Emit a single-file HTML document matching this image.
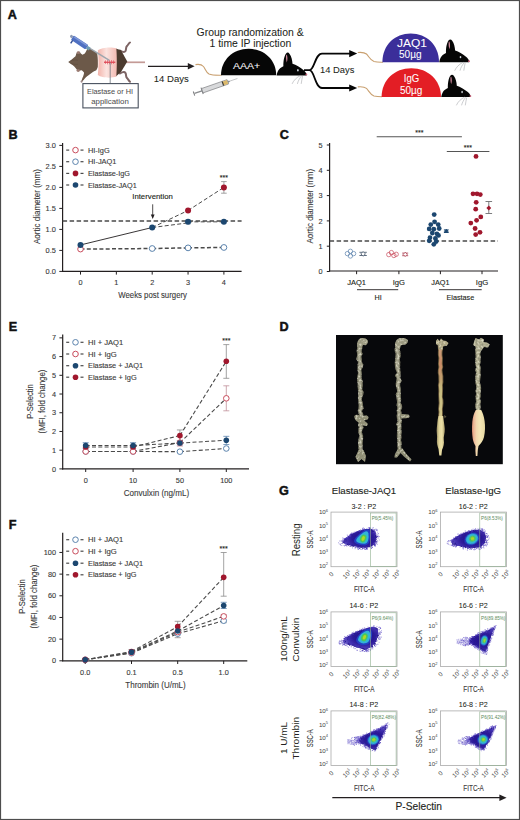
<!DOCTYPE html>
<html><head><meta charset="utf-8"><style>
html,body{margin:0;padding:0;background:#fff;}
body{width:520px;height:820px;overflow:hidden;}
svg{display:block;font-family:"Liberation Sans", sans-serif;}
</style></head><body>
<svg width="520" height="820" viewBox="0 0 520 820">
<rect x="0" y="0" width="520" height="820" fill="#fff"/>
<text x="7.8" y="18.94" font-size="12.6" stroke="#111" stroke-width="0.5" fill="#111" font-weight="bold" >A</text>
<text x="8.5" y="138.54" font-size="12.6" stroke="#111" stroke-width="0.5" fill="#111" font-weight="bold" >B</text>
<text x="279.8" y="138.64" font-size="12.6" stroke="#111" stroke-width="0.5" fill="#111" font-weight="bold" >C</text>
<text x="8.7" y="331.24" font-size="12.6" stroke="#111" stroke-width="0.5" fill="#111" font-weight="bold" >E</text>
<text x="279.6" y="331.14" font-size="12.6" stroke="#111" stroke-width="0.5" fill="#111" font-weight="bold" >D</text>
<text x="8.7" y="529.04" font-size="12.6" stroke="#111" stroke-width="0.5" fill="#111" font-weight="bold" >F</text>
<text x="278.9" y="495.34" font-size="12.6" stroke="#111" stroke-width="0.5" fill="#111" font-weight="bold" >G</text>
<path d="M126,62.3 L145,62.3" stroke="#c49a96" stroke-width="1.7"/>
<path d="M120,50.5 C122.5,52 124.5,52.5 125.5,51 C126.5,49 125.5,47.5 127,46 C128.5,44.5 128.5,43.5 130,42.5" stroke="#7d6464" stroke-width="2" fill="none" stroke-linecap="round"/>
<path d="M120,73.5 C122.5,72 124.5,71.5 125.5,73 C126.5,75 125.5,76.5 127,78 C128.5,79.5 128.5,80.5 130,81.8" stroke="#7d6464" stroke-width="2" fill="none" stroke-linecap="round"/>
<path d="M115.8,48.5 L121,50.2 L127.3,61.5 L121,72 L115.8,76.6 Z" fill="#4c3b2f"/>
<path d="M68.2,62.1 C69.5,61 70.5,60 71.7,59.4 C73,58.3 74.5,57.2 75.5,56.3 C76,55 76.2,53.6 76.7,52.8 C77.5,51.8 78.5,51.5 79.2,51.8 C80,52.3 80.5,52.8 80.8,53.4 L82.5,54.8 L84.8,53.6 C85.5,52.5 86.2,51 87.1,49.2 C88.5,48.5 90.5,48.6 93.2,50.2 C95,51.3 96.5,52.6 97.3,54 C97.9,58 98,63 97.8,67.1 C97.4,68.5 96.8,69.5 96.3,70.2 C95,71 94,71.2 93.2,71.7 C92,72.5 91,73.3 90.2,74 C89,75 88,75.6 87.1,76.3 C86,77.2 85.3,78 84.8,78.6 C84,79.6 83.2,80.5 82.5,80.9 L81.3,82.1 C81.5,80 82.5,78 83.2,76.3 C83.6,75 84.2,73.5 84,72.5 C83.2,71.5 82.5,70.8 81.7,70.2 C80.5,70.2 79.5,70.6 78.6,70.9 C77.8,70.4 77.2,70 76.7,69.4 C75.8,68.3 74.9,67.3 74,66.3 C73,65.5 72,64.7 70.9,64 C70,63.4 69,62.8 68.2,62.1 Z" fill="#6c5949"/>
<ellipse cx="78.4" cy="52.7" rx="1.7" ry="1.4" fill="#9a7b72"/><ellipse cx="78.2" cy="70.6" rx="1.7" ry="1.4" fill="#9a7b72"/>
<path d="M70.5,61 C73,60 75.5,59.8 78,60.3 M70.5,63.3 C73,64.3 75.5,64.6 78,64.2" stroke="#5d4a3c" stroke-width="0.5" fill="none"/>
<circle cx="81.6" cy="81.6" r="1.1" fill="#a08888"/>
<defs><linearGradient id="pk" x1="0" x2="1" y1="0" y2="0"><stop offset="0" stop-color="#f2b3aa"/><stop offset="0.45" stop-color="#fbe3df"/><stop offset="1" stop-color="#f3bab2"/></linearGradient></defs>
<path d="M97.8,50.5 C101,47.5 111,46.8 116.3,48.3 C117,56 117,69 116.3,76.8 C111,78.3 101,77.8 97.8,75 C98.8,67 98.8,58 97.8,50.5 Z" fill="url(#pk)"/>
<path d="M104,62.2 L115.3,62.2" stroke="#d62b3c" stroke-width="1.1"/>
<path d="M105.5,60.3 L105.5,64 M107.5,60 L107.5,64.3 M109.5,60 L109.5,64.3 M111.5,60 L111.5,64.3 M113.5,60.3 L113.5,64" stroke="#e04a58" stroke-width="0.6"/>
<path d="M89.5,48.2 L109.4,60.3" stroke="#9ea6ae" stroke-width="1.4"/>
<g transform="translate(72.3,37.6) rotate(33.5)"><rect x="0" y="-2.6" width="17.5" height="5.2" rx="1" fill="#4f70c2"/><rect x="1" y="-2.4" width="15.5" height="1.6" fill="#7d96d6"/><rect x="17.3" y="-1.6" width="3.6" height="3.2" fill="#6f9cb4"/><circle cx="-1.3" cy="-0.6" r="1.5" fill="#8c9ab4"/><rect x="1.2" y="2.2" width="1.4" height="3.6" fill="#2d4a92"/></g>
<line x1="110.2" y1="62.5" x2="110.2" y2="83" stroke="#70767e" stroke-width="0.8" />
<rect x="82.9" y="83.6" width="55.3" height="24.3" fill="#fff" stroke="#48505d" stroke-width="1.1"/>
<text x="110" y="94.06" font-size="7.4" text-anchor="middle" stroke="#505050" stroke-width="0.05" fill="#505050" textLength="46" lengthAdjust="spacingAndGlyphs" >Elastase or HI</text>
<text x="110" y="104.06" font-size="7.4" text-anchor="middle" stroke="#505050" stroke-width="0.05" fill="#505050" textLength="37.5" lengthAdjust="spacingAndGlyphs" >application</text>
<line x1="148" y1="66.3" x2="190" y2="66.3" stroke="#231f20" stroke-width="1.3" />
<path d="M194.6,66.3 L187.8,63 L187.8,69.6 Z" fill="#231f20"/>
<text x="171.3" y="82.18" font-size="9.4" text-anchor="middle" stroke="#231f20" stroke-width="0.05" fill="#231f20" textLength="35" lengthAdjust="spacingAndGlyphs" >14 Days</text>
<text x="250.1" y="35.77" font-size="10.2" text-anchor="middle" stroke="#231f20" stroke-width="0.05" fill="#231f20" textLength="107" lengthAdjust="spacingAndGlyphs" >Group randomization &amp;</text>
<text x="250.4" y="47.27" font-size="10.2" text-anchor="middle" stroke="#231f20" stroke-width="0.05" fill="#231f20" textLength="81.6" lengthAdjust="spacingAndGlyphs" >1 time IP injection</text>
<path d="M195.5,64.6 C199,64 201.5,64.3 203.5,66.5 C205.5,69 206,72.5 209,74 C212,75.3 216,75.3 221.5,75.2" stroke="#c9a070" stroke-width="1.1" fill="none"/>
<g transform="translate(194,93.6) rotate(-19.2)"><path d="M0,-2.2 L0,2.2" stroke="#77787b" stroke-width="1"/><rect x="0.5" y="-0.7" width="8" height="1.4" fill="#8a8c8f"/><path d="M8.6,-3.4 L8.6,3.4" stroke="#77787b" stroke-width="1"/><rect x="8.8" y="-2.3" width="27" height="4.6" fill="#d8d9db" stroke="#77787b" stroke-width="0.6"/><rect x="30.5" y="-2.0" width="5" height="4" fill="#dcb96a"/><rect x="30" y="-2.2" width="1.2" height="4.4" fill="#3a3a3a"/><path d="M35.8,-1.2 L38,-0.5 L38,0.5 L35.8,1.2 Z" fill="#8a8c8f"/><line x1="38" y1="0" x2="46" y2="0" stroke="#a7a9ac" stroke-width="0.6"/></g>
<path d="M221,75.3 C221,60 233,48.8 248.6,48.8 C264.2,48.8 276.2,60 276.2,75.3 Z" fill="#060606"/>
<text x="246.6" y="68.68" font-size="9.4" text-anchor="middle" stroke="#fff" stroke-width="0.05" fill="#fff" textLength="27.3" lengthAdjust="spacingAndGlyphs" >AAA+</text>
<g transform="translate(276.6,75.4) scale(1.0)"><path d="M0,0 C0.5,-3.5 2,-6 3.5,-7.2 C4.5,-8 5.5,-8.6 6.8,-9.2 C6.6,-14 7.5,-19.5 9.5,-22 C10.5,-23.2 12,-23 13,-21.5 C14.8,-19 15.8,-15 15.9,-11.6 C19.5,-10.3 23.5,-8.2 26.8,-5.4 C28.5,-4 29.6,-2.5 30.1,-1.2 L30,0 Z" fill="#060606"/><path d="M9.6,-20.6 C10.4,-21.2 11,-19 10.8,-15.5 L10.2,-13 C9.4,-15 9.2,-18.5 9.6,-20.6 Z" fill="#c98597"/><ellipse cx="21.3" cy="-5.1" rx="0.8" ry="1.2" fill="#cfd6dd"/><circle cx="29.8" cy="-1" r="0.9" fill="#d0607a"/><path d="M24,0 C20,2 17,5 15.5,8.5 M25,0.3 C23,3 21.5,5.5 20.8,8.5 M26,0.5 C25.5,3 25,5.5 24.6,8.5" stroke="#a0a2a6" stroke-width="0.55" fill="none"/></g>
<path d="M304,70.2 L309.5,70.2 C314.5,70.2 315,53.6 322,53.6 L351,53.6 M309.5,70.2 C314.5,70.2 315,88 322,88 L351,88" stroke="#060606" stroke-width="1.8" fill="none"/>
<path d="M357.2,53.6 L349.2,50 L349.2,57.2 Z M357.2,88 L349.2,84.4 L349.2,91.6 Z" fill="#060606"/>
<text x="337.2" y="73.08" font-size="9.4" text-anchor="middle" stroke="#231f20" stroke-width="0.05" fill="#231f20" textLength="34.4" lengthAdjust="spacingAndGlyphs" >14 Days</text>
<path d="M357.8,52.5 C361,52.2 364,52 366.5,54 C369,56.5 370,60 374,61.5 C377,62.3 380,62.3 383,62.2" stroke="#c9a070" stroke-width="1.1" fill="none"/>
<path d="M357.8,86.9 C361,86.6 364,86.4 366.5,88.4 C369,91 370,94.5 374,96 C377,96.8 380,96.8 382,96.8" stroke="#c9a070" stroke-width="1.1" fill="none"/>
<path d="M382.4,62.2 C382.4,45 395,33.6 410.7,33.6 C426.4,33.6 439,45 439,62.2 Z" fill="#3b2e9a"/>
<path d="M381.6,97 C381.6,80 394.5,68.2 411.3,68.2 C428,68.2 441,80 441,97 Z" fill="#e31e25"/>
<text x="412" y="46.92" font-size="10.6" text-anchor="middle" stroke="#fff" stroke-width="0.05" fill="#fff" textLength="30" lengthAdjust="spacingAndGlyphs" >JAQ1</text>
<text x="410.3" y="58.42" font-size="10.6" text-anchor="middle" stroke="#fff" stroke-width="0.05" fill="#fff" textLength="22.6" lengthAdjust="spacingAndGlyphs" >50µg</text>
<text x="411.5" y="81.92" font-size="10.6" text-anchor="middle" stroke="#fff" stroke-width="0.05" fill="#fff" textLength="15.5" lengthAdjust="spacingAndGlyphs" >IgG</text>
<text x="411.2" y="93.72" font-size="10.6" text-anchor="middle" stroke="#fff" stroke-width="0.05" fill="#fff" textLength="22.4" lengthAdjust="spacingAndGlyphs" >50µg</text>
<g transform="translate(439.2,62.2) scale(1.0)"><path d="M0,0 C0.5,-3.5 2,-6 3.5,-7.2 C4.5,-8 5.5,-8.6 6.8,-9.2 C6.6,-14 7.5,-19.5 9.5,-22 C10.5,-23.2 12,-23 13,-21.5 C14.8,-19 15.8,-15 15.9,-11.6 C19.5,-10.3 23.5,-8.2 26.8,-5.4 C28.5,-4 29.6,-2.5 30.1,-1.2 L30,0 Z" fill="#060606"/><path d="M9.6,-20.6 C10.4,-21.2 11,-19 10.8,-15.5 L10.2,-13 C9.4,-15 9.2,-18.5 9.6,-20.6 Z" fill="#c98597"/><ellipse cx="21.3" cy="-5.1" rx="0.8" ry="1.2" fill="#cfd6dd"/><circle cx="29.8" cy="-1" r="0.9" fill="#d0607a"/><path d="M24,0 C20,2 17,5 15.5,8.5 M25,0.3 C23,3 21.5,5.5 20.8,8.5 M26,0.5 C25.5,3 25,5.5 24.6,8.5" stroke="#a0a2a6" stroke-width="0.55" fill="none"/></g>
<g transform="translate(441.2,97.0) scale(0.98)"><path d="M0,0 C0.5,-3.5 2,-6 3.5,-7.2 C4.5,-8 5.5,-8.6 6.8,-9.2 C6.6,-14 7.5,-19.5 9.5,-22 C10.5,-23.2 12,-23 13,-21.5 C14.8,-19 15.8,-15 15.9,-11.6 C19.5,-10.3 23.5,-8.2 26.8,-5.4 C28.5,-4 29.6,-2.5 30.1,-1.2 L30,0 Z" fill="#060606"/><path d="M9.6,-20.6 C10.4,-21.2 11,-19 10.8,-15.5 L10.2,-13 C9.4,-15 9.2,-18.5 9.6,-20.6 Z" fill="#c98597"/><ellipse cx="21.3" cy="-5.1" rx="0.8" ry="1.2" fill="#cfd6dd"/><circle cx="29.8" cy="-1" r="0.9" fill="#d0607a"/><path d="M24,0 C20,2 17,5 15.5,8.5 M25,0.3 C23,3 21.5,5.5 20.8,8.5 M26,0.5 C25.5,3 25,5.5 24.6,8.5" stroke="#a0a2a6" stroke-width="0.55" fill="none"/></g>
<line x1="62.6" y1="143" x2="62.6" y2="272" stroke="#231f20" stroke-width="1.2" />
<line x1="62" y1="271.4" x2="241.6" y2="271.4" stroke="#231f20" stroke-width="1.2" />
<line x1="59.3" y1="271.4" x2="62.6" y2="271.4" stroke="#231f20" stroke-width="1" />
<text x="55.9" y="274.03" font-size="7.3" text-anchor="end" stroke="#3a3a3a" stroke-width="0.12" fill="#3a3a3a" textLength="10.3" lengthAdjust="spacingAndGlyphs" >0.0</text>
<line x1="59.3" y1="250.4" x2="62.6" y2="250.4" stroke="#231f20" stroke-width="1" />
<text x="55.9" y="253.03" font-size="7.3" text-anchor="end" stroke="#3a3a3a" stroke-width="0.12" fill="#3a3a3a" textLength="10.3" lengthAdjust="spacingAndGlyphs" >0.5</text>
<line x1="59.3" y1="229.4" x2="62.6" y2="229.4" stroke="#231f20" stroke-width="1" />
<text x="55.9" y="232.03" font-size="7.3" text-anchor="end" stroke="#3a3a3a" stroke-width="0.12" fill="#3a3a3a" textLength="10.3" lengthAdjust="spacingAndGlyphs" >1.0</text>
<line x1="59.3" y1="208.4" x2="62.6" y2="208.4" stroke="#231f20" stroke-width="1" />
<text x="55.9" y="211.03" font-size="7.3" text-anchor="end" stroke="#3a3a3a" stroke-width="0.12" fill="#3a3a3a" textLength="10.3" lengthAdjust="spacingAndGlyphs" >1.5</text>
<line x1="59.3" y1="187.4" x2="62.6" y2="187.4" stroke="#231f20" stroke-width="1" />
<text x="55.9" y="190.03" font-size="7.3" text-anchor="end" stroke="#3a3a3a" stroke-width="0.12" fill="#3a3a3a" textLength="10.3" lengthAdjust="spacingAndGlyphs" >2.0</text>
<line x1="59.3" y1="166.4" x2="62.6" y2="166.4" stroke="#231f20" stroke-width="1" />
<text x="55.9" y="169.03" font-size="7.3" text-anchor="end" stroke="#3a3a3a" stroke-width="0.12" fill="#3a3a3a" textLength="10.3" lengthAdjust="spacingAndGlyphs" >2.5</text>
<line x1="59.3" y1="145.4" x2="62.6" y2="145.4" stroke="#231f20" stroke-width="1" />
<text x="55.9" y="148.03" font-size="7.3" text-anchor="end" stroke="#3a3a3a" stroke-width="0.12" fill="#3a3a3a" textLength="10.3" lengthAdjust="spacingAndGlyphs" >3.0</text>
<line x1="80.5" y1="271.4" x2="80.5" y2="274.6" stroke="#231f20" stroke-width="1" />
<text x="80.5" y="284.53" font-size="7.3" text-anchor="middle" stroke="#3a3a3a" stroke-width="0.12" fill="#3a3a3a" >0</text>
<line x1="116.35" y1="271.4" x2="116.35" y2="274.6" stroke="#231f20" stroke-width="1" />
<text x="116.35" y="284.53" font-size="7.3" text-anchor="middle" stroke="#3a3a3a" stroke-width="0.12" fill="#3a3a3a" >1</text>
<line x1="152.2" y1="271.4" x2="152.2" y2="274.6" stroke="#231f20" stroke-width="1" />
<text x="152.2" y="284.53" font-size="7.3" text-anchor="middle" stroke="#3a3a3a" stroke-width="0.12" fill="#3a3a3a" >2</text>
<line x1="188.05" y1="271.4" x2="188.05" y2="274.6" stroke="#231f20" stroke-width="1" />
<text x="188.05" y="284.53" font-size="7.3" text-anchor="middle" stroke="#3a3a3a" stroke-width="0.12" fill="#3a3a3a" >3</text>
<line x1="223.9" y1="271.4" x2="223.9" y2="274.6" stroke="#231f20" stroke-width="1" />
<text x="223.9" y="284.53" font-size="7.3" text-anchor="middle" stroke="#3a3a3a" stroke-width="0.12" fill="#3a3a3a" >4</text>
<text x="152.6" y="298.48" font-size="9.4" text-anchor="middle" stroke="#3a3a3a" stroke-width="0.12" fill="#3a3a3a" textLength="68.7" lengthAdjust="spacingAndGlyphs" >Weeks post surgery</text>
<text x="0" y="3.24" font-size="9.0" text-anchor="middle" stroke="#3a3a3a" stroke-width="0.12" fill="#3a3a3a" textLength="75" lengthAdjust="spacingAndGlyphs" transform="translate(36.3,206.6) rotate(-90)" >Aortic diameter (mm)</text>
<line x1="62.6" y1="220.9" x2="241.6" y2="220.9" stroke="#4a4a4a" stroke-width="1.5" stroke-dasharray="4.5 2.5"/>
<line x1="80.5" y1="244.94" x2="152.2" y2="227.51" stroke="#231f20" stroke-width="0.9" />
<line x1="80.5" y1="249.14" x2="152.2" y2="248.51" stroke="#4a4a4a" stroke-width="1.5" stroke-dasharray="4 2.3"/>
<line x1="152.2" y1="248.51" x2="188.05" y2="247.88" stroke="#4a4a4a" stroke-width="1.5" stroke-dasharray="4 2.3"/>
<line x1="188.05" y1="247.88" x2="223.9" y2="247.46" stroke="#4a4a4a" stroke-width="1.5" stroke-dasharray="4 2.3"/>
<line x1="152.2" y1="227.51" x2="188.05" y2="210.5" stroke="#4a4a4a" stroke-width="1.0" stroke-dasharray="4 2.3"/>
<line x1="188.05" y1="210.5" x2="223.9" y2="187.4" stroke="#4a4a4a" stroke-width="1.0" stroke-dasharray="4 2.3"/>
<line x1="152.2" y1="227.51" x2="188.05" y2="222.89" stroke="#4a4a4a" stroke-width="1.0" stroke-dasharray="4 2.3"/>
<line x1="188.05" y1="221.84" x2="223.9" y2="221.84" stroke="#4a4a4a" stroke-width="1.0" stroke-dasharray="4 2.3"/>
<line x1="223.9" y1="181.6" x2="223.9" y2="193.2" stroke="#8c8c8c" stroke-width="0.8" />
<line x1="221.1" y1="181.6" x2="226.7" y2="181.6" stroke="#8c8c8c" stroke-width="0.8" />
<line x1="221.1" y1="193.2" x2="226.7" y2="193.2" stroke="#8c8c8c" stroke-width="0.8" />
<line x1="188.05" y1="212.6" x2="188.05" y2="208.4" stroke="#8c8c8c" stroke-width="0.8" />
<line x1="188.05" y1="223.94" x2="188.05" y2="219.74" stroke="#9aa7b8" stroke-width="0.8" />
<line x1="185.55" y1="223.94" x2="190.55" y2="223.94" stroke="#9aa7b8" stroke-width="0.8" />
<line x1="185.55" y1="219.74" x2="190.55" y2="219.74" stroke="#9aa7b8" stroke-width="0.8" />
<circle cx="80.5" cy="249.14" r="2.8" fill="#fff" stroke="#c94c5c" stroke-width="1"/>
<circle cx="152.2" cy="248.51" r="2.9" fill="#fff" stroke="#5b83ad" stroke-width="1"/>
<circle cx="188.05" cy="247.88" r="2.9" fill="#fff" stroke="#5b83ad" stroke-width="1"/>
<circle cx="223.9" cy="247.46" r="2.9" fill="#fff" stroke="#5b83ad" stroke-width="1"/>
<circle cx="80.5" cy="244.94" r="3" fill="#1c4770"/>
<circle cx="152.2" cy="227.51" r="3" fill="#1c4770"/>
<circle cx="188.05" cy="210.5" r="3" fill="#a0172d"/>
<circle cx="223.9" cy="187.4" r="3" fill="#a0172d"/>
<circle cx="188.05" cy="221.84" r="3" fill="#1c4770"/>
<circle cx="223.9" cy="221.84" r="3" fill="#1c4770"/>
<text x="223.9" y="180.12" font-size="7" text-anchor="middle" stroke="#231f20" stroke-width="0.12" fill="#231f20" >***</text>
<text x="152.5" y="199.39" font-size="7.2" text-anchor="middle" stroke="#231f20" stroke-width="0.12" fill="#231f20" textLength="40.5" lengthAdjust="spacingAndGlyphs" >Intervention</text>
<line x1="152.7" y1="204.3" x2="152.7" y2="217" stroke="#231f20" stroke-width="0.8" />
<path d="M152.7,219 L150.8,214.4 L154.6,214.4 Z" fill="#231f20"/>
<line x1="66.2" y1="150.1" x2="69.2" y2="150.1" stroke="#4a4a4a" stroke-width="1.2" />
<line x1="80.5" y1="150.1" x2="83.5" y2="150.1" stroke="#4a4a4a" stroke-width="1.2" />
<circle cx="75.5" cy="150.1" r="2.8" fill="#fff" stroke="#c94c5c" stroke-width="1"/>
<text x="88" y="152.62" font-size="7.0" stroke="#3a3a3a" stroke-width="0.12" fill="#3a3a3a" textLength="21.7" lengthAdjust="spacingAndGlyphs" >HI-IgG</text>
<line x1="66.2" y1="161.7" x2="69.2" y2="161.7" stroke="#4a4a4a" stroke-width="1.2" />
<line x1="80.5" y1="161.7" x2="83.5" y2="161.7" stroke="#4a4a4a" stroke-width="1.2" />
<circle cx="75.5" cy="161.7" r="2.8" fill="#fff" stroke="#5b83ad" stroke-width="1"/>
<text x="88" y="164.22" font-size="7.0" stroke="#3a3a3a" stroke-width="0.12" fill="#3a3a3a" textLength="28.5" lengthAdjust="spacingAndGlyphs" >HI-JAQ1</text>
<line x1="66.2" y1="173.4" x2="69.2" y2="173.4" stroke="#4a4a4a" stroke-width="1.2" />
<line x1="80.5" y1="173.4" x2="83.5" y2="173.4" stroke="#4a4a4a" stroke-width="1.2" />
<circle cx="75.5" cy="173.4" r="2.8" fill="#a0172d"/>
<text x="88" y="175.92" font-size="7.0" stroke="#3a3a3a" stroke-width="0.12" fill="#3a3a3a" textLength="42" lengthAdjust="spacingAndGlyphs" >Elastase-IgG</text>
<line x1="66.2" y1="185" x2="69.2" y2="185" stroke="#4a4a4a" stroke-width="1.2" />
<line x1="80.5" y1="185" x2="83.5" y2="185" stroke="#4a4a4a" stroke-width="1.2" />
<circle cx="75.5" cy="185" r="2.8" fill="#1c4770"/>
<text x="88" y="187.52" font-size="7.0" stroke="#3a3a3a" stroke-width="0.12" fill="#3a3a3a" textLength="48.7" lengthAdjust="spacingAndGlyphs" >Elastase-JAQ1</text>
<line x1="329.6" y1="143" x2="329.6" y2="271.5" stroke="#231f20" stroke-width="1.2" />
<line x1="329" y1="271" x2="498" y2="271" stroke="#231f20" stroke-width="1.2" />
<line x1="326.8" y1="271.5" x2="329.6" y2="271.5" stroke="#231f20" stroke-width="1" />
<text x="322.6" y="274.13" font-size="7.3" text-anchor="end" stroke="#3a3a3a" stroke-width="0.12" fill="#3a3a3a" >0</text>
<line x1="326.8" y1="246.2" x2="329.6" y2="246.2" stroke="#231f20" stroke-width="1" />
<text x="322.6" y="248.83" font-size="7.3" text-anchor="end" stroke="#3a3a3a" stroke-width="0.12" fill="#3a3a3a" >1</text>
<line x1="326.8" y1="220.9" x2="329.6" y2="220.9" stroke="#231f20" stroke-width="1" />
<text x="322.6" y="223.53" font-size="7.3" text-anchor="end" stroke="#3a3a3a" stroke-width="0.12" fill="#3a3a3a" >2</text>
<line x1="326.8" y1="195.6" x2="329.6" y2="195.6" stroke="#231f20" stroke-width="1" />
<text x="322.6" y="198.23" font-size="7.3" text-anchor="end" stroke="#3a3a3a" stroke-width="0.12" fill="#3a3a3a" >3</text>
<line x1="326.8" y1="170.3" x2="329.6" y2="170.3" stroke="#231f20" stroke-width="1" />
<text x="322.6" y="172.93" font-size="7.3" text-anchor="end" stroke="#3a3a3a" stroke-width="0.12" fill="#3a3a3a" >4</text>
<line x1="326.8" y1="145" x2="329.6" y2="145" stroke="#231f20" stroke-width="1" />
<text x="322.6" y="147.63" font-size="7.3" text-anchor="end" stroke="#3a3a3a" stroke-width="0.12" fill="#3a3a3a" >5</text>
<line x1="356.6" y1="271" x2="356.6" y2="274.2" stroke="#231f20" stroke-width="1" />
<text x="356.6" y="284.79" font-size="7.2" text-anchor="middle" stroke="#231f20" stroke-width="0.12" fill="#231f20" textLength="18.8" lengthAdjust="spacingAndGlyphs" >JAQ1</text>
<line x1="398.9" y1="271" x2="398.9" y2="274.2" stroke="#231f20" stroke-width="1" />
<text x="398.9" y="284.79" font-size="7.2" text-anchor="middle" stroke="#231f20" stroke-width="0.12" fill="#231f20" textLength="12.3" lengthAdjust="spacingAndGlyphs" >IgG</text>
<line x1="440.4" y1="271" x2="440.4" y2="274.2" stroke="#231f20" stroke-width="1" />
<text x="440.4" y="284.79" font-size="7.2" text-anchor="middle" stroke="#231f20" stroke-width="0.12" fill="#231f20" textLength="18.3" lengthAdjust="spacingAndGlyphs" >JAQ1</text>
<line x1="482" y1="271" x2="482" y2="274.2" stroke="#231f20" stroke-width="1" />
<text x="482" y="284.79" font-size="7.2" text-anchor="middle" stroke="#231f20" stroke-width="0.12" fill="#231f20" textLength="12.5" lengthAdjust="spacingAndGlyphs" >IgG</text>
<line x1="357" y1="289.7" x2="398.2" y2="289.7" stroke="#231f20" stroke-width="0.9" />
<text x="378.2" y="299.99" font-size="7.2" text-anchor="middle" stroke="#231f20" stroke-width="0.12" fill="#231f20" >HI</text>
<line x1="439" y1="289.7" x2="481.7" y2="289.7" stroke="#231f20" stroke-width="0.9" />
<text x="460.4" y="299.99" font-size="7.2" text-anchor="middle" stroke="#231f20" stroke-width="0.12" fill="#231f20" textLength="27.7" lengthAdjust="spacingAndGlyphs" >Elastase</text>
<text x="0" y="3.24" font-size="9.0" text-anchor="middle" stroke="#3a3a3a" stroke-width="0.12" fill="#3a3a3a" textLength="74.7" lengthAdjust="spacingAndGlyphs" transform="translate(309.4,206.2) rotate(-90)" >Aortic diameter (mm)</text>
<line x1="329.6" y1="241.1" x2="498" y2="241.1" stroke="#4a4a4a" stroke-width="1.5" stroke-dasharray="4.5 2.5"/>
<line x1="376.7" y1="136.7" x2="461.9" y2="136.7" stroke="#555" stroke-width="1.1" />
<text x="419.3" y="135.12" font-size="7" text-anchor="middle" stroke="#231f20" stroke-width="0.12" fill="#231f20" >***</text>
<line x1="446.8" y1="151.5" x2="489.4" y2="151.5" stroke="#555" stroke-width="1.1" />
<text x="467.8" y="149.92" font-size="7" text-anchor="middle" stroke="#231f20" stroke-width="0.12" fill="#231f20" >***</text>
<circle cx="347.4" cy="253.6" r="2.2" fill="none" stroke="#5b83ad" stroke-width="0.7"/>
<circle cx="350.4" cy="251.3" r="2.2" fill="none" stroke="#5b83ad" stroke-width="0.7"/>
<circle cx="353.6" cy="253.6" r="2.2" fill="none" stroke="#5b83ad" stroke-width="0.7"/>
<circle cx="350.4" cy="256" r="2.2" fill="none" stroke="#5b83ad" stroke-width="0.7"/>
<circle cx="388.8" cy="254.6" r="2.2" fill="none" stroke="#c94c5c" stroke-width="0.7"/>
<circle cx="391.4" cy="252.6" r="2.2" fill="none" stroke="#c94c5c" stroke-width="0.7"/>
<circle cx="393.9" cy="255.5" r="2.2" fill="none" stroke="#c94c5c" stroke-width="0.7"/>
<circle cx="396.2" cy="254.3" r="2.2" fill="none" stroke="#c94c5c" stroke-width="0.7"/>
<line x1="363.1" y1="252.3" x2="363.1" y2="255.5" stroke="#4d5d70" stroke-width="0.9" />
<line x1="359.4" y1="252.3" x2="366.8" y2="252.3" stroke="#4d5d70" stroke-width="0.9" />
<line x1="359.4" y1="255.5" x2="366.8" y2="255.5" stroke="#4d5d70" stroke-width="0.9" />
<path d="M360.8,253.9 L363.1,251.6 L365.4,253.9 L363.1,256.2 Z" fill="#fff" stroke="#4d5d70" stroke-width="0.9"/>
<line x1="405.2" y1="253.1" x2="405.2" y2="255.7" stroke="#b04a5a" stroke-width="0.9" />
<line x1="402.2" y1="253.1" x2="408.2" y2="253.1" stroke="#b04a5a" stroke-width="0.9" />
<line x1="402.2" y1="255.7" x2="408.2" y2="255.7" stroke="#b04a5a" stroke-width="0.9" />
<path d="M403.1,254.4 L405.2,252.3 L407.3,254.4 L405.2,256.5 Z" fill="#fff" stroke="#b04a5a" stroke-width="0.9"/>
<circle cx="434.2" cy="214.6" r="2.4" fill="#1c4770"/>
<circle cx="434.6" cy="221.8" r="2.4" fill="#1c4770"/>
<circle cx="430.8" cy="224.6" r="2.4" fill="#1c4770"/>
<circle cx="438.2" cy="224.6" r="2.4" fill="#1c4770"/>
<circle cx="429.2" cy="228.9" r="2.4" fill="#1c4770"/>
<circle cx="433.8" cy="229.2" r="2.4" fill="#1c4770"/>
<circle cx="439.2" cy="228.5" r="2.4" fill="#1c4770"/>
<circle cx="432.3" cy="233" r="2.4" fill="#1c4770"/>
<circle cx="436.9" cy="233.8" r="2.4" fill="#1c4770"/>
<circle cx="438.5" cy="235.4" r="2.4" fill="#1c4770"/>
<circle cx="430" cy="237.7" r="2.4" fill="#1c4770"/>
<circle cx="435.4" cy="238.5" r="2.4" fill="#1c4770"/>
<circle cx="429.2" cy="240.8" r="2.4" fill="#1c4770"/>
<circle cx="436.2" cy="241.5" r="2.4" fill="#1c4770"/>
<circle cx="433.8" cy="244.3" r="2.4" fill="#1c4770"/>
<circle cx="476" cy="156.4" r="2.4" fill="#a0172d"/>
<circle cx="473" cy="193.8" r="2.4" fill="#a0172d"/>
<circle cx="477" cy="193.8" r="2.4" fill="#a0172d"/>
<circle cx="480.3" cy="194.6" r="2.4" fill="#a0172d"/>
<circle cx="476.2" cy="202.3" r="2.4" fill="#a0172d"/>
<circle cx="475.7" cy="209.2" r="2.4" fill="#a0172d"/>
<circle cx="480.8" cy="216.9" r="2.4" fill="#a0172d"/>
<circle cx="476.6" cy="220.3" r="2.4" fill="#a0172d"/>
<circle cx="470.8" cy="223.1" r="2.4" fill="#a0172d"/>
<circle cx="475.1" cy="228.5" r="2.4" fill="#a0172d"/>
<circle cx="480" cy="232.3" r="2.4" fill="#a0172d"/>
<circle cx="475.7" cy="234.6" r="2.4" fill="#a0172d"/>
<line x1="446.3" y1="229.9" x2="446.3" y2="232.5" stroke="#1c4770" stroke-width="1" />
<line x1="443.9" y1="229.9" x2="448.7" y2="229.9" stroke="#1c4770" stroke-width="1" />
<line x1="443.9" y1="232.5" x2="448.7" y2="232.5" stroke="#1c4770" stroke-width="1" />
<path d="M444.5,231.2 L446.3,229.4 L448.1,231.2 L446.3,233 Z" fill="#1c4770" stroke="#1c4770" stroke-width="1"/>
<line x1="488.8" y1="201.5" x2="488.8" y2="213.5" stroke="#6d6e71" stroke-width="0.9" />
<line x1="485.5" y1="201.5" x2="492.1" y2="201.5" stroke="#6d6e71" stroke-width="0.9" />
<line x1="485.5" y1="213.5" x2="492.1" y2="213.5" stroke="#6d6e71" stroke-width="0.9" />
<path d="M486.4,208 L488.8,205.4 L491.2,208 L488.8,210.6 Z" fill="#a0172d"/>
<line x1="62.7" y1="334.6" x2="62.7" y2="469.4" stroke="#231f20" stroke-width="1.2" />
<line x1="62.1" y1="468.9" x2="249" y2="468.9" stroke="#231f20" stroke-width="1.2" />
<line x1="59.4" y1="468.9" x2="62.7" y2="468.9" stroke="#231f20" stroke-width="1" />
<text x="56" y="471.53" font-size="7.3" text-anchor="end" stroke="#3a3a3a" stroke-width="0.12" fill="#3a3a3a" >0</text>
<line x1="59.4" y1="450.18" x2="62.7" y2="450.18" stroke="#231f20" stroke-width="1" />
<text x="56" y="452.81" font-size="7.3" text-anchor="end" stroke="#3a3a3a" stroke-width="0.12" fill="#3a3a3a" >1</text>
<line x1="59.4" y1="431.46" x2="62.7" y2="431.46" stroke="#231f20" stroke-width="1" />
<text x="56" y="434.09" font-size="7.3" text-anchor="end" stroke="#3a3a3a" stroke-width="0.12" fill="#3a3a3a" >2</text>
<line x1="59.4" y1="412.74" x2="62.7" y2="412.74" stroke="#231f20" stroke-width="1" />
<text x="56" y="415.37" font-size="7.3" text-anchor="end" stroke="#3a3a3a" stroke-width="0.12" fill="#3a3a3a" >3</text>
<line x1="59.4" y1="394.02" x2="62.7" y2="394.02" stroke="#231f20" stroke-width="1" />
<text x="56" y="396.65" font-size="7.3" text-anchor="end" stroke="#3a3a3a" stroke-width="0.12" fill="#3a3a3a" >4</text>
<line x1="59.4" y1="375.3" x2="62.7" y2="375.3" stroke="#231f20" stroke-width="1" />
<text x="56" y="377.93" font-size="7.3" text-anchor="end" stroke="#3a3a3a" stroke-width="0.12" fill="#3a3a3a" >5</text>
<line x1="59.4" y1="356.58" x2="62.7" y2="356.58" stroke="#231f20" stroke-width="1" />
<text x="56" y="359.21" font-size="7.3" text-anchor="end" stroke="#3a3a3a" stroke-width="0.12" fill="#3a3a3a" >6</text>
<line x1="59.4" y1="337.86" x2="62.7" y2="337.86" stroke="#231f20" stroke-width="1" />
<text x="56" y="340.49" font-size="7.3" text-anchor="end" stroke="#3a3a3a" stroke-width="0.12" fill="#3a3a3a" >7</text>
<line x1="85.7" y1="468.9" x2="85.7" y2="472" stroke="#231f20" stroke-width="1" />
<text x="85.7" y="482.53" font-size="7.3" text-anchor="middle" stroke="#3a3a3a" stroke-width="0.12" fill="#3a3a3a" >0</text>
<line x1="133.1" y1="468.9" x2="133.1" y2="472" stroke="#231f20" stroke-width="1" />
<text x="133.1" y="482.53" font-size="7.3" text-anchor="middle" stroke="#3a3a3a" stroke-width="0.12" fill="#3a3a3a" >10</text>
<line x1="179.9" y1="468.9" x2="179.9" y2="472" stroke="#231f20" stroke-width="1" />
<text x="179.9" y="482.53" font-size="7.3" text-anchor="middle" stroke="#3a3a3a" stroke-width="0.12" fill="#3a3a3a" >50</text>
<line x1="226.3" y1="468.9" x2="226.3" y2="472" stroke="#231f20" stroke-width="1" />
<text x="226.3" y="482.53" font-size="7.3" text-anchor="middle" stroke="#3a3a3a" stroke-width="0.12" fill="#3a3a3a" >100</text>
<text x="156.5" y="495.98" font-size="9.4" text-anchor="middle" stroke="#3a3a3a" stroke-width="0.12" fill="#3a3a3a" textLength="65.6" lengthAdjust="spacingAndGlyphs" >Convulxin (ng/mL)</text>
<text x="0" y="3.17" font-size="8.8" text-anchor="middle" stroke="#3a3a3a" stroke-width="0.12" fill="#3a3a3a" textLength="34.5" lengthAdjust="spacingAndGlyphs" transform="translate(29.7,401.5) rotate(-90)" >P-Selectin</text>
<text x="0" y="3.17" font-size="8.8" text-anchor="middle" stroke="#3a3a3a" stroke-width="0.12" fill="#3a3a3a" textLength="64" lengthAdjust="spacingAndGlyphs" transform="translate(42,401.5) rotate(-90)" >(MFI, fold change)</text>
<line x1="85.7" y1="451.49" x2="133.1" y2="451.49" stroke="#4a4a4a" stroke-width="1.1" stroke-dasharray="4 2.3"/>
<line x1="133.1" y1="451.49" x2="179.9" y2="451.68" stroke="#4a4a4a" stroke-width="1.1" stroke-dasharray="4 2.3"/>
<line x1="179.9" y1="451.68" x2="226.3" y2="448.5" stroke="#4a4a4a" stroke-width="1.1" stroke-dasharray="4 2.3"/>
<line x1="85.7" y1="451.49" x2="133.1" y2="451.49" stroke="#4a4a4a" stroke-width="1.1" stroke-dasharray="4 2.3"/>
<line x1="133.1" y1="451.49" x2="179.9" y2="442.69" stroke="#4a4a4a" stroke-width="1.1" stroke-dasharray="4 2.3"/>
<line x1="179.9" y1="442.69" x2="226.3" y2="398.33" stroke="#4a4a4a" stroke-width="1.1" stroke-dasharray="4 2.3"/>
<line x1="85.7" y1="445.5" x2="133.1" y2="445.5" stroke="#4a4a4a" stroke-width="1.1" stroke-dasharray="4 2.3"/>
<line x1="133.1" y1="445.5" x2="179.9" y2="443.07" stroke="#4a4a4a" stroke-width="1.1" stroke-dasharray="4 2.3"/>
<line x1="179.9" y1="443.07" x2="226.3" y2="440.26" stroke="#4a4a4a" stroke-width="1.1" stroke-dasharray="4 2.3"/>
<line x1="85.7" y1="447" x2="133.1" y2="447" stroke="#4a4a4a" stroke-width="1.1" stroke-dasharray="4 2.3"/>
<line x1="133.1" y1="447" x2="179.9" y2="435.58" stroke="#4a4a4a" stroke-width="1.1" stroke-dasharray="4 2.3"/>
<line x1="179.9" y1="435.58" x2="226.3" y2="361.26" stroke="#4a4a4a" stroke-width="1.1" stroke-dasharray="4 2.3"/>
<line x1="226.3" y1="344.6" x2="226.3" y2="378.3" stroke="#8c8c8c" stroke-width="0.8" />
<line x1="223.3" y1="344.6" x2="229.3" y2="344.6" stroke="#8c8c8c" stroke-width="0.8" />
<line x1="223.3" y1="378.3" x2="229.3" y2="378.3" stroke="#8c8c8c" stroke-width="0.8" />
<line x1="226.3" y1="385.8" x2="226.3" y2="410.8" stroke="#c0909a" stroke-width="0.8" />
<line x1="223.3" y1="385.8" x2="229.3" y2="385.8" stroke="#c0909a" stroke-width="0.8" />
<line x1="223.3" y1="410.8" x2="229.3" y2="410.8" stroke="#c0909a" stroke-width="0.8" />
<line x1="179.9" y1="429.96" x2="179.9" y2="440.82" stroke="#8c8c8c" stroke-width="0.8" />
<line x1="176.9" y1="429.96" x2="182.9" y2="429.96" stroke="#8c8c8c" stroke-width="0.8" />
<line x1="176.9" y1="440.82" x2="182.9" y2="440.82" stroke="#8c8c8c" stroke-width="0.8" />
<line x1="226.3" y1="436.33" x2="226.3" y2="444.56" stroke="#5b83ad" stroke-width="0.8" />
<line x1="223.3" y1="436.33" x2="229.3" y2="436.33" stroke="#5b83ad" stroke-width="0.8" />
<line x1="223.3" y1="444.56" x2="229.3" y2="444.56" stroke="#5b83ad" stroke-width="0.8" />
<line x1="85.7" y1="442.69" x2="85.7" y2="448.31" stroke="#5b83ad" stroke-width="0.8" />
<line x1="82.7" y1="442.69" x2="88.7" y2="442.69" stroke="#5b83ad" stroke-width="0.8" />
<line x1="82.7" y1="448.31" x2="88.7" y2="448.31" stroke="#5b83ad" stroke-width="0.8" />
<line x1="133.1" y1="442.69" x2="133.1" y2="448.31" stroke="#5b83ad" stroke-width="0.8" />
<line x1="130.1" y1="442.69" x2="136.1" y2="442.69" stroke="#5b83ad" stroke-width="0.8" />
<line x1="130.1" y1="448.31" x2="136.1" y2="448.31" stroke="#5b83ad" stroke-width="0.8" />
<line x1="179.9" y1="441.19" x2="179.9" y2="444.94" stroke="#5b83ad" stroke-width="0.8" />
<line x1="176.9" y1="441.19" x2="182.9" y2="441.19" stroke="#5b83ad" stroke-width="0.8" />
<line x1="176.9" y1="444.94" x2="182.9" y2="444.94" stroke="#5b83ad" stroke-width="0.8" />
<line x1="179.9" y1="437.08" x2="179.9" y2="446.06" stroke="#d08a96" stroke-width="0.8" />
<line x1="176.9" y1="437.08" x2="182.9" y2="437.08" stroke="#d08a96" stroke-width="0.8" />
<line x1="176.9" y1="446.06" x2="182.9" y2="446.06" stroke="#d08a96" stroke-width="0.8" />
<circle cx="85.7" cy="451.49" r="2.8" fill="#fff" stroke="#5b83ad" stroke-width="1"/>
<circle cx="133.1" cy="451.49" r="2.8" fill="#fff" stroke="#5b83ad" stroke-width="1"/>
<circle cx="179.9" cy="451.68" r="2.8" fill="#fff" stroke="#5b83ad" stroke-width="1"/>
<circle cx="226.3" cy="448.5" r="2.8" fill="#fff" stroke="#5b83ad" stroke-width="1"/>
<circle cx="85.7" cy="451.49" r="2.8" fill="#fff" stroke="#c94c5c" stroke-width="1"/>
<circle cx="133.1" cy="451.49" r="2.8" fill="#fff" stroke="#c94c5c" stroke-width="1"/>
<circle cx="179.9" cy="442.69" r="2.8" fill="#fff" stroke="#c94c5c" stroke-width="1"/>
<circle cx="226.3" cy="398.33" r="2.8" fill="#fff" stroke="#c94c5c" stroke-width="1"/>
<circle cx="85.7" cy="447" r="2.8" fill="#a0172d"/>
<circle cx="133.1" cy="447" r="2.8" fill="#a0172d"/>
<circle cx="179.9" cy="435.58" r="2.8" fill="#a0172d"/>
<circle cx="226.3" cy="361.26" r="2.8" fill="#a0172d"/>
<circle cx="85.7" cy="445.5" r="2.8" fill="#1c4770"/>
<circle cx="133.1" cy="445.5" r="2.8" fill="#1c4770"/>
<circle cx="179.9" cy="443.07" r="2.8" fill="#1c4770"/>
<circle cx="226.3" cy="440.26" r="2.8" fill="#1c4770"/>
<text x="226.3" y="342.72" font-size="7" text-anchor="middle" stroke="#231f20" stroke-width="0.12" fill="#231f20" >***</text>
<line x1="66.2" y1="342.3" x2="69.2" y2="342.3" stroke="#4a4a4a" stroke-width="1.2" />
<line x1="80.5" y1="342.3" x2="83.5" y2="342.3" stroke="#4a4a4a" stroke-width="1.2" />
<circle cx="75.5" cy="342.3" r="2.8" fill="#fff" stroke="#5b83ad" stroke-width="1"/>
<text x="88" y="344.82" font-size="7.0" stroke="#3a3a3a" stroke-width="0.12" fill="#3a3a3a" textLength="35.2" lengthAdjust="spacingAndGlyphs" >HI + JAQ1</text>
<line x1="66.2" y1="354" x2="69.2" y2="354" stroke="#4a4a4a" stroke-width="1.2" />
<line x1="80.5" y1="354" x2="83.5" y2="354" stroke="#4a4a4a" stroke-width="1.2" />
<circle cx="75.5" cy="354" r="2.8" fill="#fff" stroke="#c94c5c" stroke-width="1"/>
<text x="88" y="356.52" font-size="7.0" stroke="#3a3a3a" stroke-width="0.12" fill="#3a3a3a" textLength="28.8" lengthAdjust="spacingAndGlyphs" >HI + IgG</text>
<line x1="66.2" y1="365.7" x2="69.2" y2="365.7" stroke="#4a4a4a" stroke-width="1.2" />
<line x1="80.5" y1="365.7" x2="83.5" y2="365.7" stroke="#4a4a4a" stroke-width="1.2" />
<circle cx="75.5" cy="365.7" r="2.8" fill="#1c4770"/>
<text x="88" y="368.22" font-size="7.0" stroke="#3a3a3a" stroke-width="0.12" fill="#3a3a3a" textLength="55" lengthAdjust="spacingAndGlyphs" >Elastase + JAQ1</text>
<line x1="66.2" y1="377.2" x2="69.2" y2="377.2" stroke="#4a4a4a" stroke-width="1.2" />
<line x1="80.5" y1="377.2" x2="83.5" y2="377.2" stroke="#4a4a4a" stroke-width="1.2" />
<circle cx="75.5" cy="377.2" r="2.8" fill="#a0172d"/>
<text x="88" y="379.72" font-size="7.0" stroke="#3a3a3a" stroke-width="0.12" fill="#3a3a3a" textLength="48.7" lengthAdjust="spacingAndGlyphs" >Elastase + IgG</text>
<line x1="62.7" y1="532.7" x2="62.7" y2="661.3" stroke="#231f20" stroke-width="1.2" />
<line x1="62.1" y1="660.8" x2="247.3" y2="660.8" stroke="#231f20" stroke-width="1.2" />
<line x1="59.4" y1="660.8" x2="62.7" y2="660.8" stroke="#231f20" stroke-width="1" />
<text x="56" y="663.43" font-size="7.3" text-anchor="end" stroke="#3a3a3a" stroke-width="0.12" fill="#3a3a3a" >0</text>
<line x1="59.4" y1="639.13" x2="62.7" y2="639.13" stroke="#231f20" stroke-width="1" />
<text x="56" y="641.76" font-size="7.3" text-anchor="end" stroke="#3a3a3a" stroke-width="0.12" fill="#3a3a3a" >20</text>
<line x1="59.4" y1="617.46" x2="62.7" y2="617.46" stroke="#231f20" stroke-width="1" />
<text x="56" y="620.09" font-size="7.3" text-anchor="end" stroke="#3a3a3a" stroke-width="0.12" fill="#3a3a3a" >40</text>
<line x1="59.4" y1="595.79" x2="62.7" y2="595.79" stroke="#231f20" stroke-width="1" />
<text x="56" y="598.42" font-size="7.3" text-anchor="end" stroke="#3a3a3a" stroke-width="0.12" fill="#3a3a3a" >60</text>
<line x1="59.4" y1="574.12" x2="62.7" y2="574.12" stroke="#231f20" stroke-width="1" />
<text x="56" y="576.75" font-size="7.3" text-anchor="end" stroke="#3a3a3a" stroke-width="0.12" fill="#3a3a3a" >80</text>
<line x1="59.4" y1="552.45" x2="62.7" y2="552.45" stroke="#231f20" stroke-width="1" />
<text x="56" y="555.08" font-size="7.3" text-anchor="end" stroke="#3a3a3a" stroke-width="0.12" fill="#3a3a3a" >100</text>
<line x1="85.2" y1="660.8" x2="85.2" y2="664" stroke="#231f20" stroke-width="1" />
<text x="85.2" y="675.03" font-size="7.3" text-anchor="middle" stroke="#3a3a3a" stroke-width="0.12" fill="#3a3a3a" >0.0</text>
<line x1="131.5" y1="660.8" x2="131.5" y2="664" stroke="#231f20" stroke-width="1" />
<text x="131.5" y="675.03" font-size="7.3" text-anchor="middle" stroke="#3a3a3a" stroke-width="0.12" fill="#3a3a3a" >0.1</text>
<line x1="177.7" y1="660.8" x2="177.7" y2="664" stroke="#231f20" stroke-width="1" />
<text x="177.7" y="675.03" font-size="7.3" text-anchor="middle" stroke="#3a3a3a" stroke-width="0.12" fill="#3a3a3a" >0.5</text>
<line x1="223.7" y1="660.8" x2="223.7" y2="664" stroke="#231f20" stroke-width="1" />
<text x="223.7" y="675.03" font-size="7.3" text-anchor="middle" stroke="#3a3a3a" stroke-width="0.12" fill="#3a3a3a" >1.0</text>
<text x="155.5" y="688.18" font-size="9.4" text-anchor="middle" stroke="#3a3a3a" stroke-width="0.12" fill="#3a3a3a" textLength="60.4" lengthAdjust="spacingAndGlyphs" >Thrombin (U/mL)</text>
<text x="0" y="3.17" font-size="8.8" text-anchor="middle" stroke="#3a3a3a" stroke-width="0.12" fill="#3a3a3a" textLength="34.5" lengthAdjust="spacingAndGlyphs" transform="translate(21.6,596.6) rotate(-90)" >P-Selectin</text>
<text x="0" y="3.17" font-size="8.8" text-anchor="middle" stroke="#3a3a3a" stroke-width="0.12" fill="#3a3a3a" textLength="64" lengthAdjust="spacingAndGlyphs" transform="translate(34.3,596.5) rotate(-90)" >(MFI, fold change)</text>
<line x1="85.2" y1="659.72" x2="131.5" y2="653.22" stroke="#4a4a4a" stroke-width="1.1" stroke-dasharray="4 2.3"/>
<line x1="131.5" y1="653.22" x2="177.7" y2="633.71" stroke="#4a4a4a" stroke-width="1.1" stroke-dasharray="4 2.3"/>
<line x1="177.7" y1="633.71" x2="223.7" y2="620.71" stroke="#4a4a4a" stroke-width="1.1" stroke-dasharray="4 2.3"/>
<line x1="85.2" y1="659.72" x2="131.5" y2="652.67" stroke="#4a4a4a" stroke-width="1.1" stroke-dasharray="4 2.3"/>
<line x1="131.5" y1="652.67" x2="177.7" y2="632.09" stroke="#4a4a4a" stroke-width="1.1" stroke-dasharray="4 2.3"/>
<line x1="177.7" y1="632.09" x2="223.7" y2="616.38" stroke="#4a4a4a" stroke-width="1.1" stroke-dasharray="4 2.3"/>
<line x1="85.2" y1="659.72" x2="131.5" y2="652.13" stroke="#4a4a4a" stroke-width="1.1" stroke-dasharray="4 2.3"/>
<line x1="131.5" y1="652.13" x2="177.7" y2="631" stroke="#4a4a4a" stroke-width="1.1" stroke-dasharray="4 2.3"/>
<line x1="177.7" y1="631" x2="223.7" y2="605.54" stroke="#4a4a4a" stroke-width="1.1" stroke-dasharray="4 2.3"/>
<line x1="85.2" y1="659.72" x2="131.5" y2="651.59" stroke="#4a4a4a" stroke-width="1.1" stroke-dasharray="4 2.3"/>
<line x1="131.5" y1="651.59" x2="177.7" y2="626.67" stroke="#4a4a4a" stroke-width="1.1" stroke-dasharray="4 2.3"/>
<line x1="177.7" y1="626.67" x2="223.7" y2="577.37" stroke="#4a4a4a" stroke-width="1.1" stroke-dasharray="4 2.3"/>
<line x1="223.7" y1="552.5" x2="223.7" y2="596.2" stroke="#8c8c8c" stroke-width="0.8" />
<line x1="220.7" y1="552.5" x2="226.7" y2="552.5" stroke="#8c8c8c" stroke-width="0.8" />
<line x1="220.7" y1="596.2" x2="226.7" y2="596.2" stroke="#8c8c8c" stroke-width="0.8" />
<line x1="223.7" y1="602.3" x2="223.7" y2="608.5" stroke="#5b83ad" stroke-width="0.8" />
<line x1="220.7" y1="602.3" x2="226.7" y2="602.3" stroke="#5b83ad" stroke-width="0.8" />
<line x1="220.7" y1="608.5" x2="226.7" y2="608.5" stroke="#5b83ad" stroke-width="0.8" />
<line x1="223.7" y1="614.7" x2="223.7" y2="622.7" stroke="#8c8c8c" stroke-width="0.8" />
<line x1="220.7" y1="614.7" x2="226.7" y2="614.7" stroke="#8c8c8c" stroke-width="0.8" />
<line x1="220.7" y1="622.7" x2="226.7" y2="622.7" stroke="#8c8c8c" stroke-width="0.8" />
<line x1="177.7" y1="621.3" x2="177.7" y2="637.7" stroke="#8c8c8c" stroke-width="0.8" />
<line x1="174.7" y1="621.3" x2="180.7" y2="621.3" stroke="#8c8c8c" stroke-width="0.8" />
<line x1="174.7" y1="637.7" x2="180.7" y2="637.7" stroke="#8c8c8c" stroke-width="0.8" />
<line x1="131.5" y1="649.5" x2="131.5" y2="654" stroke="#8c8c8c" stroke-width="0.8" />
<line x1="128.5" y1="649.5" x2="134.5" y2="649.5" stroke="#8c8c8c" stroke-width="0.8" />
<line x1="128.5" y1="654" x2="134.5" y2="654" stroke="#8c8c8c" stroke-width="0.8" />
<circle cx="85.2" cy="659.72" r="2.8" fill="#fff" stroke="#5b83ad" stroke-width="1"/>
<circle cx="131.5" cy="653.22" r="2.8" fill="#fff" stroke="#5b83ad" stroke-width="1"/>
<circle cx="177.7" cy="633.71" r="2.8" fill="#fff" stroke="#5b83ad" stroke-width="1"/>
<circle cx="223.7" cy="620.71" r="2.8" fill="#fff" stroke="#5b83ad" stroke-width="1"/>
<circle cx="85.2" cy="659.72" r="2.8" fill="#fff" stroke="#c94c5c" stroke-width="1"/>
<circle cx="131.5" cy="652.67" r="2.8" fill="#fff" stroke="#c94c5c" stroke-width="1"/>
<circle cx="177.7" cy="632.09" r="2.8" fill="#fff" stroke="#c94c5c" stroke-width="1"/>
<circle cx="223.7" cy="616.38" r="2.8" fill="#fff" stroke="#c94c5c" stroke-width="1"/>
<circle cx="85.2" cy="659.72" r="2.8" fill="#a0172d"/>
<circle cx="131.5" cy="651.59" r="2.8" fill="#a0172d"/>
<circle cx="177.7" cy="626.67" r="2.8" fill="#a0172d"/>
<circle cx="223.7" cy="577.37" r="2.8" fill="#a0172d"/>
<circle cx="85.2" cy="659.72" r="2.8" fill="#1c4770"/>
<circle cx="131.5" cy="652.13" r="2.8" fill="#1c4770"/>
<circle cx="177.7" cy="631" r="2.8" fill="#1c4770"/>
<circle cx="223.7" cy="605.54" r="2.8" fill="#1c4770"/>
<text x="223.7" y="551.32" font-size="7" text-anchor="middle" stroke="#231f20" stroke-width="0.12" fill="#231f20" >***</text>
<line x1="66.2" y1="539.7" x2="69.2" y2="539.7" stroke="#4a4a4a" stroke-width="1.2" />
<line x1="80.5" y1="539.7" x2="83.5" y2="539.7" stroke="#4a4a4a" stroke-width="1.2" />
<circle cx="75.5" cy="539.7" r="2.8" fill="#fff" stroke="#5b83ad" stroke-width="1"/>
<text x="88" y="542.22" font-size="7.0" stroke="#3a3a3a" stroke-width="0.12" fill="#3a3a3a" textLength="35.2" lengthAdjust="spacingAndGlyphs" >HI + JAQ1</text>
<line x1="66.2" y1="551.2" x2="69.2" y2="551.2" stroke="#4a4a4a" stroke-width="1.2" />
<line x1="80.5" y1="551.2" x2="83.5" y2="551.2" stroke="#4a4a4a" stroke-width="1.2" />
<circle cx="75.5" cy="551.2" r="2.8" fill="#fff" stroke="#c94c5c" stroke-width="1"/>
<text x="88" y="553.72" font-size="7.0" stroke="#3a3a3a" stroke-width="0.12" fill="#3a3a3a" textLength="28.8" lengthAdjust="spacingAndGlyphs" >HI + IgG</text>
<line x1="66.2" y1="563.2" x2="69.2" y2="563.2" stroke="#4a4a4a" stroke-width="1.2" />
<line x1="80.5" y1="563.2" x2="83.5" y2="563.2" stroke="#4a4a4a" stroke-width="1.2" />
<circle cx="75.5" cy="563.2" r="2.8" fill="#1c4770"/>
<text x="88" y="565.72" font-size="7.0" stroke="#3a3a3a" stroke-width="0.12" fill="#3a3a3a" textLength="55" lengthAdjust="spacingAndGlyphs" >Elastase + JAQ1</text>
<line x1="66.2" y1="574.8" x2="69.2" y2="574.8" stroke="#4a4a4a" stroke-width="1.2" />
<line x1="80.5" y1="574.8" x2="83.5" y2="574.8" stroke="#4a4a4a" stroke-width="1.2" />
<circle cx="75.5" cy="574.8" r="2.8" fill="#a0172d"/>
<text x="88" y="577.32" font-size="7.0" stroke="#3a3a3a" stroke-width="0.12" fill="#3a3a3a" textLength="48.6" lengthAdjust="spacingAndGlyphs" >Elastase + IgG</text>
<rect x="336" y="335" width="166.8" height="129.2" fill="#07080b"/>
<defs>
<filter id="tex" x="-20%" y="-5%" width="140%" height="110%">
<feTurbulence type="fractalNoise" baseFrequency="0.5" numOctaves="2" seed="5" result="n"/>
<feColorMatrix in="n" type="matrix" values="0 0 0 0 0.8  0 0 0 0 0.8  0 0 0 0 0.66  0 0 0 2.0 -0.95" result="hl"/>
<feComposite in="hl" in2="SourceGraphic" operator="in" result="hl2"/>
<feColorMatrix in="n" type="matrix" values="0 0 0 0 0.28  0 0 0 0 0.28  0 0 0 0 0.2  0 0 0 -2.4 1.35" result="sh"/>
<feComposite in="sh" in2="SourceGraphic" operator="in" result="sh2"/>
<feMerge result="m"><feMergeNode in="SourceGraphic"/><feMergeNode in="sh2"/><feMergeNode in="hl2"/></feMerge>
<feGaussianBlur in="m" stdDeviation="0.4"/>
</filter>
<linearGradient id="a3" x1="0" x2="1"><stop offset="0" stop-color="#7a4028"/><stop offset="0.35" stop-color="#b06a40"/><stop offset="0.7" stop-color="#c2a068"/><stop offset="1" stop-color="#8a7a50"/></linearGradient>
<linearGradient id="b3" x1="0" x2="1"><stop offset="0" stop-color="#9a8e60"/><stop offset="0.3" stop-color="#e0d49a"/><stop offset="0.65" stop-color="#ece0a8"/><stop offset="1" stop-color="#a89a68"/></linearGradient>
<linearGradient id="b4" x1="0" x2="1"><stop offset="0" stop-color="#e09478"/><stop offset="0.15" stop-color="#ecb898"/><stop offset="0.35" stop-color="#f2d8ae"/><stop offset="0.6" stop-color="#f4e6b6"/><stop offset="1" stop-color="#e6d8a2"/></linearGradient>
</defs>
<g filter="url(#tex)"><path d="M356.9,343.0 L357.7,345.7 L357.0,348.4 L356.7,351.2 L357.1,353.9 L356.9,356.6 L356.4,359.4 L358.0,362.1 L357.6,364.8 L357.5,367.5 L357.5,370.2 L358.0,373.0 L357.4,375.7 L357.0,378.4 L357.2,381.1 L357.6,383.9 L357.6,386.6 L357.9,389.3 L358.0,392.1 L358.1,394.8 L357.9,397.5 L358.1,400.2 L358.5,402.9 L358.6,405.7 L358.4,408.4 L357.7,411.1 L358.8,413.9 L359.0,416.6 L357.5,419.3 L358.9,422.0 L357.9,424.8 L358.8,427.5 L358.2,430.2 L358.4,432.9 L359.3,435.6 L358.7,438.4 L358.0,441.1 L358.0,443.8 L358.3,446.6 L358.6,449.3 L359.2,452.0 L364.2,452.0 L362.5,449.3 L362.5,446.6 L362.7,443.8 L362.9,441.1 L363.1,438.4 L363.1,435.6 L362.0,432.9 L362.2,430.2 L363.8,427.5 L362.2,424.8 L363.0,422.0 L362.4,419.3 L363.4,416.6 L363.3,413.9 L361.8,411.1 L363.7,408.4 L363.1,405.7 L362.9,402.9 L361.9,400.2 L362.1,397.5 L363.3,394.8 L363.7,392.1 L362.2,389.3 L362.6,386.6 L362.6,383.9 L362.7,381.1 L361.7,378.4 L361.7,375.7 L361.9,373.0 L361.3,370.2 L362.6,367.5 L363.4,364.8 L362.0,362.1 L361.9,359.4 L361.4,356.6 L362.6,353.9 L361.7,351.2 L362.2,348.4 L362.6,345.7 L362.0,343.0 Z" fill="#67654f"/><path d="M358.0,343.0 L358.8,345.7 L358.2,348.4 L357.8,351.2 L358.3,353.9 L357.9,356.6 L357.6,359.4 L358.9,362.1 L358.9,364.8 L358.7,367.5 L358.3,370.2 L358.9,373.0 L358.3,375.7 L358.0,378.4 L358.4,381.1 L358.7,383.9 L358.7,386.6 L358.9,389.3 L359.3,392.1 L359.3,394.8 L358.8,397.5 L358.9,400.2 L359.5,402.9 L359.6,405.7 L359.6,408.4 L358.6,411.1 L359.8,413.9 L360.0,416.6 L358.6,419.3 L359.8,422.0 L358.9,424.8 L359.9,427.5 L359.1,430.2 L359.2,432.9 L360.1,435.6 L359.7,438.4 L359.1,441.1 L359.1,443.8 L359.2,446.6 L359.5,449.3 L360.3,452.0 L363.0,452.0 L361.6,449.3 L361.6,446.6 L361.7,443.8 L361.8,441.1 L362.1,438.4 L362.2,435.6 L361.2,432.9 L361.3,430.2 L362.7,427.5 L361.2,424.8 L362.1,422.0 L361.3,419.3 L362.4,416.6 L362.3,413.9 L360.9,411.1 L362.5,408.4 L362.1,405.7 L361.9,402.9 L361.0,400.2 L361.1,397.5 L362.1,394.8 L362.4,392.1 L361.3,389.3 L361.5,386.6 L361.5,383.9 L361.4,381.1 L360.6,378.4 L360.7,375.7 L361.0,373.0 L360.5,370.2 L361.5,367.5 L362.1,364.8 L361.1,362.1 L360.7,359.4 L360.4,356.6 L361.4,353.9 L360.5,351.2 L361.0,348.4 L361.5,345.7 L360.8,343.0 Z" fill="#aeac95"/><path d="M395.0,343.0 L395.8,345.7 L394.7,348.4 L394.7,351.1 L395.6,353.8 L395.4,356.5 L395.1,359.2 L394.8,361.9 L394.8,364.6 L395.0,367.3 L395.7,370.0 L396.9,372.7 L394.9,375.4 L396.5,378.1 L396.3,380.8 L395.7,383.5 L395.9,386.2 L396.8,388.9 L397.1,391.6 L395.7,394.3 L396.5,397.0 L396.8,399.7 L397.0,402.4 L396.6,405.1 L397.3,407.8 L396.8,410.5 L397.0,413.2 L396.7,415.9 L396.9,418.6 L397.6,421.3 L396.2,424.0 L397.2,426.7 L397.0,429.4 L397.0,432.1 L396.9,434.8 L396.9,437.5 L397.2,440.2 L397.3,442.9 L397.2,445.6 L397.6,448.3 L397.4,451.0 L402.5,451.0 L401.4,448.3 L401.3,445.6 L401.9,442.9 L401.0,440.2 L401.6,437.5 L401.3,434.8 L401.9,432.1 L401.2,429.4 L401.6,426.7 L401.2,424.0 L402.0,421.3 L401.3,418.6 L400.6,415.9 L401.8,413.2 L401.0,410.5 L402.1,407.8 L402.0,405.1 L400.5,402.4 L401.2,399.7 L400.9,397.0 L400.9,394.3 L400.8,391.6 L400.8,388.9 L400.2,386.2 L400.2,383.5 L401.9,380.8 L400.3,378.1 L400.5,375.4 L400.6,372.7 L400.2,370.0 L400.1,367.3 L400.2,364.6 L400.3,361.9 L399.8,359.2 L400.5,356.5 L400.6,353.8 L400.2,351.1 L399.3,348.4 L400.0,345.7 L400.2,343.0 Z" fill="#67654f"/><path d="M396.1,343.0 L396.7,345.7 L395.8,348.4 L396.0,351.1 L396.7,353.8 L396.6,356.5 L396.2,359.2 L396.0,361.9 L396.0,364.6 L396.1,367.3 L396.7,370.0 L397.7,372.7 L396.2,375.4 L397.3,378.1 L397.6,380.8 L396.7,383.5 L396.9,386.2 L397.7,388.9 L397.9,391.6 L396.9,394.3 L397.5,397.0 L397.8,399.7 L397.8,402.4 L397.8,405.1 L398.4,407.8 L397.7,410.5 L398.1,413.2 L397.6,415.9 L397.9,418.6 L398.6,421.3 L397.4,424.0 L398.2,426.7 L398.0,429.4 L398.1,432.1 L397.9,434.8 L398.0,437.5 L398.1,440.2 L398.4,442.9 L398.1,445.6 L398.5,448.3 L398.6,451.0 L401.4,451.0 L400.6,448.3 L400.4,445.6 L400.8,442.9 L400.2,440.2 L400.5,437.5 L400.3,434.8 L400.8,432.1 L400.3,429.4 L400.6,426.7 L400.1,424.0 L401.0,421.3 L400.3,418.6 L399.8,415.9 L400.7,413.2 L400.1,410.5 L401.0,407.8 L400.8,405.1 L399.7,402.4 L400.2,399.7 L399.9,397.0 L399.7,394.3 L400.0,391.6 L399.9,388.9 L399.2,386.2 L399.2,383.5 L400.6,380.8 L399.5,378.1 L399.2,375.4 L399.8,372.7 L399.2,370.0 L399.0,367.3 L398.9,364.6 L399.1,361.9 L398.7,359.2 L399.4,356.5 L399.5,353.8 L399.0,351.1 L398.3,348.4 L399.0,345.7 L399.0,343.0 Z" fill="#aeac95"/><path d="M357.3,347 C356.8,343 357.8,339.5 360.8,338.3 C363.5,337.5 366,338.3 367.6,340.3 C368.4,342 367.6,344 366,345 C364.6,345.6 363.6,344.6 362.6,345.2 C361.6,346 361.6,348 361.2,349.5 Z" fill="#a09e84"/><path d="M354.5,416 C356,414 358,415 360,416 L366,415.5 C368.5,415.5 369,418 367.5,419.5 L364,420.5 L366.5,422.5 C368.5,423.5 368,426 365.5,426 L361,425 L358,422 C356,421 354,419 354.5,416 Z" fill="#8e8c72"/><path d="M358.5,450 L363.5,450 L366,456 L365,462 L361.5,459 L358,462 L355.5,457 Z" fill="#8e8c72"/><path d="M395.3,347 C394.8,343 395.8,339.5 398.8,338.4 C401.8,337.6 405.5,338 407.6,339.8 C408.4,341.5 407.4,343.6 405.6,344.4 C404,345 402.5,344.4 401.2,345.2 C400.2,346 400.2,348 399.8,349.5 Z" fill="#a09e84"/><path d="M400,414 L408,414.5 C410,415 410,418 408,418 L401,418.5 Z" fill="#8e8c72"/><path d="M398,449 L395,454 L394.5,457.5 L397,457.5 L400.5,453 L404.5,457 L410,461.5 L411.5,459.5 L406,453.5 L402.5,448.5 Z" fill="#8e8c72"/></g>
<defs><linearGradient id="v3" gradientUnits="userSpaceOnUse" x1="0" y1="346" x2="0" y2="418"><stop offset="0" stop-color="#caa07c"/><stop offset="0.25" stop-color="#c98c66"/><stop offset="0.45" stop-color="#c2a070"/><stop offset="0.6" stop-color="#c8bc80"/><stop offset="1" stop-color="#d2c68c"/></linearGradient></defs>
<path d="M437.7,346.0 L438.0,349.0 L437.9,352.0 L437.9,355.0 L438.4,358.0 L438.2,361.0 L438.0,364.0 L438.4,367.0 L437.9,370.0 L437.8,373.0 L438.3,376.0 L438.4,379.0 L438.5,382.0 L437.9,385.0 L438.2,388.0 L438.4,391.0 L438.3,394.0 L438.4,397.0 L438.5,400.0 L438.7,403.0 L438.4,406.0 L438.1,409.0 L438.5,412.0 L438.2,415.0 L438.3,418.0 L442.9,418.0 L442.9,415.0 L442.9,412.0 L442.8,409.0 L443.2,406.0 L443.5,403.0 L443.4,400.0 L442.7,397.0 L442.9,394.0 L443.0,391.0 L443.1,388.0 L442.9,385.0 L443.4,382.0 L443.3,379.0 L443.3,376.0 L442.8,373.0 L442.4,370.0 L443.2,367.0 L442.7,364.0 L442.8,361.0 L442.9,358.0 L442.4,355.0 L442.5,352.0 L443.1,349.0 L442.7,346.0 Z" fill="#6e5c3c" filter="url(#bl2)"/><path d="M438.7,346.0 L439.0,349.0 L438.8,352.0 L438.8,355.0 L439.3,358.0 L439.1,361.0 L438.9,364.0 L439.3,367.0 L438.7,370.0 L438.7,373.0 L439.3,376.0 L439.3,379.0 L439.4,382.0 L438.9,385.0 L439.1,388.0 L439.3,391.0 L439.1,394.0 L439.2,397.0 L439.4,400.0 L439.6,403.0 L439.3,406.0 L439.0,409.0 L439.4,412.0 L439.1,415.0 L439.2,418.0 L442.0,418.0 L442.0,415.0 L442.1,412.0 L441.9,409.0 L442.3,406.0 L442.6,403.0 L442.5,400.0 L441.9,397.0 L442.0,394.0 L442.1,391.0 L442.1,388.0 L442.0,385.0 L442.5,382.0 L442.4,379.0 L442.4,376.0 L441.8,373.0 L441.6,370.0 L442.3,367.0 L441.8,364.0 L441.9,361.0 L442.0,358.0 L441.6,355.0 L441.6,352.0 L442.1,349.0 L441.7,346.0 Z" fill="url(#v3)" filter="url(#bl2)"/>
<g filter="url(#tex)"><path d="M436,341 L437.5,338.8 L439.5,341 L441,338.6 L443,340.5 L446,341 L448.5,343 L447,345.5 L443,346.5 L442.5,349.5 L438.5,349.5 L438.5,346 L436,344 Z" fill="#b8ae88"/></g>
<path d="M438.5,416 C437.2,420 437.4,424 436.8,428 C436.2,432 437.5,435 437,439 C436.5,443 437.5,446 438.5,449 L439.3,455.5 L441.4,455.5 L442,450 C443.5,447 444.5,443 443.8,440 C443.2,437 445,433 444.8,429 C444.6,425 443.6,421 443.2,416 Z" fill="url(#b3)" filter="url(#bl2)"/>
<path d="M444,415 L446.5,416.5 L444.5,418.5 Z" fill="#55503c"/>
<g filter="url(#tex)">
<path d="M474.9,349.0 L475.3,351.6 L475.5,354.2 L475.6,356.9 L475.2,359.5 L475.2,362.1 L475.4,364.8 L476.1,367.4 L475.1,370.0 L476.0,372.6 L475.5,375.2 L475.1,377.9 L475.4,380.5 L475.4,383.1 L476.2,385.8 L476.2,388.4 L475.4,391.0 L476.1,393.6 L475.6,396.2 L475.7,398.9 L476.0,401.5 L475.4,404.1 L475.2,406.8 L476.0,409.4 L476.3,412.0 L480.7,412.0 L480.4,409.4 L480.6,406.8 L480.3,404.1 L481.1,401.5 L480.0,398.9 L480.8,396.2 L480.5,393.6 L481.0,391.0 L481.1,388.4 L481.0,385.8 L480.0,383.1 L480.1,380.5 L480.4,377.9 L480.8,375.2 L480.4,372.6 L480.6,370.0 L480.8,367.4 L479.9,364.8 L480.7,362.1 L480.5,359.5 L480.9,356.9 L480.1,354.2 L481.0,351.6 L480.3,349.0 Z" fill="#77755c"/><path d="M476.0,349.0 L476.4,351.6 L476.4,354.2 L476.7,356.9 L476.2,359.5 L476.3,362.1 L476.3,364.8 L477.0,367.4 L476.2,370.0 L476.9,372.6 L476.6,375.2 L476.2,377.9 L476.3,380.5 L476.3,383.1 L477.1,385.8 L477.1,388.4 L476.6,391.0 L477.0,393.6 L476.7,396.2 L476.5,398.9 L477.0,401.5 L476.4,404.1 L476.3,406.8 L476.9,409.4 L477.2,412.0 L479.8,412.0 L479.5,409.4 L479.5,406.8 L479.3,404.1 L480.0,401.5 L479.1,398.9 L479.8,396.2 L479.6,393.6 L479.9,391.0 L480.1,388.4 L480.0,385.8 L479.0,383.1 L479.1,380.5 L479.3,377.9 L479.7,375.2 L479.5,372.6 L479.5,370.0 L479.9,367.4 L479.0,364.8 L479.6,362.1 L479.4,359.5 L479.8,356.9 L479.2,354.2 L479.9,351.6 L479.2,349.0 Z" fill="#bebb9c"/>
<path d="M474,342 L475.5,338 L479,339.5 L481,337.8 L484,339.5 L483.5,342 L487,342.5 L489.8,344.5 L488,347.5 L484,347 L481.5,350.5 L476,351 L475.5,346.5 L473.2,345 Z" fill="#b4b092"/>
</g>
<path d="M475.8,410 C474,413 472.8,417 472.3,422 C471.8,428 472,434 472.8,439 C473.3,442 474.5,444 475.5,446 L475.4,451 L475.8,456 L477.4,456 L477.8,450 L478.5,446 C481,443.5 483,441 484,437 C485.2,432 485.3,426 484.6,421 C484,416 482.5,412.5 481.2,410 Z" fill="url(#b4)" filter="url(#bl2)"/>
<text x="364" y="494.46" font-size="9.6" text-anchor="middle" stroke="#231f20" stroke-width="0.12" fill="#231f20" textLength="64.5" lengthAdjust="spacingAndGlyphs" >Elastase-JAQ1</text>
<text x="473.2" y="494.46" font-size="9.6" text-anchor="middle" stroke="#231f20" stroke-width="0.12" fill="#231f20" textLength="55.9" lengthAdjust="spacingAndGlyphs" >Elastase-IgG</text>
<defs><filter id="bl1" x="-30%" y="-30%" width="160%" height="160%"><feGaussianBlur stdDeviation="0.9"/></filter><filter id="bl2" x="-30%" y="-30%" width="160%" height="160%"><feGaussianBlur stdDeviation="0.6"/></filter></defs>
<text x="363.8" y="508.66" font-size="7.1" text-anchor="middle" stroke="#231f20" stroke-width="0.05" fill="#231f20" >3-2 : P2</text>
<rect x="331.0" y="512.1" width="66" height="54.6" fill="#fff" stroke="#aaa" stroke-width="0.8"/>
<defs><radialGradient id="rg0" gradientUnits="userSpaceOnUse" cx="362.9" cy="538.8" r="24" gradientTransform="translate(362.9,538.8) scale(1,0.62) translate(-362.9,-538.8)"><stop offset="0" stop-color="#22148a"/><stop offset="0.45" stop-color="#2c1a98"/><stop offset="0.7" stop-color="#4432b2"/><stop offset="0.9" stop-color="#6e60c8"/><stop offset="1" stop-color="#9a90dc"/></radialGradient></defs>
<path d="M341.9,542.3 L344.9,538.3 L350.9,534.3 L356.9,531.3 L363.9,529.2 L370.4,528.5 L374.9,531.3 L376.4,536.8 L375.4,542.8 L371.9,546.3 L365.9,547.8 L358.9,547.3 L351.9,545.8 L345.9,544.8 Z" fill="url(#rg0)" filter="url(#bl2)"/>
<path d="M373.1 544.2h.9v.9h-.9zM375.4 542.4h.9v.9h-.9zM345.5 539.3h.9v.9h-.9zM365.9 529.1h.9v.9h-.9zM370.4 546.6h.9v.9h-.9zM344.0 542.2h.9v.9h-.9zM370.7 529.7h.9v.9h-.9zM368.9 545.9h.9v.9h-.9zM374.4 539.6h.9v.9h-.9zM367.2 529.9h.9v.9h-.9zM374.8 537.9h.9v.9h-.9zM364.6 547.0h.9v.9h-.9zM366.3 530.3h.9v.9h-.9zM375.6 541.4h.9v.9h-.9zM375.8 537.4h.9v.9h-.9zM371.5 530.7h.9v.9h-.9zM374.5 537.9h.9v.9h-.9zM343.1 541.8h.9v.9h-.9zM358.5 532.1h.9v.9h-.9zM357.9 532.2h.9v.9h-.9zM370.7 529.0h.9v.9h-.9zM361.2 547.1h.9v.9h-.9zM375.1 536.1h.9v.9h-.9zM358.1 546.8h.9v.9h-.9zM347.1 544.1h.9v.9h-.9zM348.9 544.1h.9v.9h-.9zM352.0 535.4h.9v.9h-.9zM374.1 544.1h.9v.9h-.9zM356.3 532.1h.9v.9h-.9zM360.7 531.3h.9v.9h-.9zM347.5 543.5h.9v.9h-.9zM376.3 536.6h.9v.9h-.9zM374.9 535.4h.9v.9h-.9zM367.4 530.1h.9v.9h-.9zM368.2 529.6h.9v.9h-.9zM368.2 529.5h.9v.9h-.9zM375.0 537.9h.9v.9h-.9zM351.2 545.3h.9v.9h-.9zM349.1 537.2h.9v.9h-.9zM353.3 546.1h.9v.9h-.9zM345.7 539.6h.9v.9h-.9zM359.6 547.0h.9v.9h-.9zM365.1 529.7h.9v.9h-.9zM375.5 534.7h.9v.9h-.9zM375.1 532.5h.9v.9h-.9zM356.7 545.9h.9v.9h-.9zM374.0 534.6h.9v.9h-.9zM375.5 539.3h.9v.9h-.9zM351.5 545.5h.9v.9h-.9zM350.1 535.3h.9v.9h-.9zM371.3 530.5h.9v.9h-.9zM366.7 529.8h.9v.9h-.9zM374.6 541.0h.9v.9h-.9zM353.5 545.3h.9v.9h-.9zM369.5 528.6h.9v.9h-.9zM363.1 529.9h.9v.9h-.9zM368.0 529.3h.9v.9h-.9zM343.5 541.1h.9v.9h-.9zM368.2 530.0h.9v.9h-.9zM371.7 531.4h.9v.9h-.9zM374.8 539.6h.9v.9h-.9zM344.5 539.0h.9v.9h-.9zM376.2 536.9h.9v.9h-.9zM351.6 544.7h.9v.9h-.9zM376.1 536.3h.9v.9h-.9zM351.6 534.8h.9v.9h-.9zM344.4 539.1h.9v.9h-.9zM372.1 531.6h.9v.9h-.9zM351.8 544.6h.9v.9h-.9zM372.4 530.5h.9v.9h-.9zM345.4 540.8h.9v.9h-.9zM372.8 531.2h.9v.9h-.9zM353.2 534.2h.9v.9h-.9zM375.0 538.4h.9v.9h-.9zM375.2 534.7h.9v.9h-.9zM367.2 546.5h.9v.9h-.9zM371.1 545.0h.9v.9h-.9zM374.6 540.0h.9v.9h-.9zM373.5 543.0h.9v.9h-.9zM368.6 546.6h.9v.9h-.9zM351.8 534.6h.9v.9h-.9zM373.0 530.5h.9v.9h-.9zM362.4 546.6h.9v.9h-.9zM372.2 531.2h.9v.9h-.9zM352.2 545.5h.9v.9h-.9zM372.2 543.7h.9v.9h-.9zM344.1 540.3h.9v.9h-.9zM372.3 530.5h.9v.9h-.9zM371.3 529.8h.9v.9h-.9z" fill="#2a1a90"/>
<path d="M374.0 532.2h.9v.9h-.9zM372.9 543.1h.9v.9h-.9zM346.2 545.3h.9v.9h-.9zM344.7 540.7h.9v.9h-.9zM375.9 538.8h.9v.9h-.9zM341.7 540.5h.9v.9h-.9zM344.4 538.1h.9v.9h-.9zM366.0 547.6h.9v.9h-.9zM376.2 541.6h.9v.9h-.9zM372.8 532.0h.9v.9h-.9zM351.8 532.9h.9v.9h-.9zM362.1 547.4h.9v.9h-.9zM350.2 534.8h.9v.9h-.9zM374.2 530.2h.9v.9h-.9zM344.4 538.5h.9v.9h-.9zM349.7 546.1h.9v.9h-.9zM373.9 542.9h.9v.9h-.9zM364.0 547.0h.9v.9h-.9zM370.5 546.2h.9v.9h-.9zM358.9 548.0h.9v.9h-.9zM374.8 543.8h.9v.9h-.9zM373.9 543.2h.9v.9h-.9zM362.5 529.1h.9v.9h-.9zM344.8 544.8h.9v.9h-.9zM377.0 536.0h.9v.9h-.9zM365.7 548.6h.9v.9h-.9zM366.4 548.4h.9v.9h-.9zM373.7 530.4h.9v.9h-.9zM341.5 540.5h.9v.9h-.9zM355.3 531.9h.9v.9h-.9zM356.6 531.2h.9v.9h-.9zM369.1 528.2h.9v.9h-.9zM374.3 542.8h.9v.9h-.9zM374.2 534.7h.9v.9h-.9zM364.2 530.1h.9v.9h-.9zM374.7 545.1h.9v.9h-.9zM359.8 547.5h.9v.9h-.9zM359.3 530.5h.9v.9h-.9zM349.9 533.8h.9v.9h-.9zM371.7 547.1h.9v.9h-.9zM373.9 542.1h.9v.9h-.9zM375.1 538.8h.9v.9h-.9zM355.1 546.8h.9v.9h-.9zM343.1 540.4h.9v.9h-.9zM371.9 544.7h.9v.9h-.9zM348.9 536.3h.9v.9h-.9zM376.0 541.3h.9v.9h-.9zM350.8 533.3h.9v.9h-.9zM358.7 529.9h.9v.9h-.9zM344.4 545.2h.9v.9h-.9zM348.1 545.2h.9v.9h-.9zM363.9 530.2h.9v.9h-.9zM376.6 535.8h.9v.9h-.9zM375.3 533.7h.9v.9h-.9zM357.2 546.6h.9v.9h-.9zM373.8 545.0h.9v.9h-.9zM343.3 538.4h.9v.9h-.9zM356.6 547.1h.9v.9h-.9zM343.6 540.0h.9v.9h-.9zM370.2 528.6h.9v.9h-.9zM376.4 534.7h.9v.9h-.9zM374.5 532.6h.9v.9h-.9zM350.5 545.2h.9v.9h-.9zM354.8 546.9h.9v.9h-.9zM374.5 538.4h.9v.9h-.9zM362.0 548.1h.9v.9h-.9zM349.4 534.6h.9v.9h-.9zM349.8 536.1h.9v.9h-.9zM372.5 528.8h.9v.9h-.9zM375.1 531.4h.9v.9h-.9zM341.7 540.5h.9v.9h-.9zM355.2 532.0h.9v.9h-.9zM363.9 528.9h.9v.9h-.9zM374.2 545.3h.9v.9h-.9zM363.3 547.6h.9v.9h-.9zM376.7 540.4h.9v.9h-.9zM366.2 546.7h.9v.9h-.9zM343.7 539.4h.9v.9h-.9zM341.6 543.1h.9v.9h-.9zM346.6 545.4h.9v.9h-.9zM348.8 535.7h.9v.9h-.9zM366.7 548.3h.9v.9h-.9zM358.5 531.1h.9v.9h-.9zM375.3 533.1h.9v.9h-.9zM344.4 541.8h.9v.9h-.9zM363.7 547.9h.9v.9h-.9z" fill="#4a36b4"/>
<path d="M340.7 545.2h.9v.9h-.9zM371.7 546.4h.9v.9h-.9zM353.5 532.2h.9v.9h-.9zM356.9 547.7h.9v.9h-.9zM340.1 543.8h.9v.9h-.9zM364.0 527.9h.9v.9h-.9zM373.8 529.1h.9v.9h-.9zM360.2 529.6h.9v.9h-.9zM358.4 547.7h.9v.9h-.9zM362.5 527.8h.9v.9h-.9zM357.8 547.2h.9v.9h-.9zM371.1 548.0h.9v.9h-.9zM375.0 544.7h.9v.9h-.9zM360.2 529.7h.9v.9h-.9zM349.3 534.9h.9v.9h-.9zM357.9 549.0h.9v.9h-.9zM368.8 527.2h.9v.9h-.9zM375.5 529.3h.9v.9h-.9zM373.7 528.9h.9v.9h-.9zM378.6 536.1h.9v.9h-.9zM344.0 538.0h.9v.9h-.9zM375.3 543.8h.9v.9h-.9zM377.6 537.5h.9v.9h-.9zM374.7 544.6h.9v.9h-.9zM375.9 542.9h.9v.9h-.9zM369.6 527.1h.9v.9h-.9zM376.0 529.2h.9v.9h-.9zM357.5 547.3h.9v.9h-.9zM343.0 540.0h.9v.9h-.9zM367.0 548.5h.9v.9h-.9zM375.1 545.6h.9v.9h-.9zM376.4 530.0h.9v.9h-.9zM372.1 529.2h.9v.9h-.9zM362.3 528.1h.9v.9h-.9zM376.8 529.5h.9v.9h-.9zM339.5 540.5h.9v.9h-.9zM365.3 549.1h.9v.9h-.9zM342.2 539.5h.9v.9h-.9zM347.0 536.5h.9v.9h-.9zM342.4 541.0h.9v.9h-.9zM342.4 537.5h.9v.9h-.9zM342.7 540.3h.9v.9h-.9zM363.3 547.8h.9v.9h-.9zM364.6 548.4h.9v.9h-.9z" fill="#7a6cd0"/>
<path d="M357.6 548.1h.9v.9h-.9zM359.9 549.2h.9v.9h-.9zM362.1 548.8h.9v.9h-.9zM351.4 532.0h.9v.9h-.9zM372.8 527.1h.9v.9h-.9zM377.0 531.7h.9v.9h-.9zM376.9 541.6h.9v.9h-.9zM378.1 533.1h.9v.9h-.9zM354.6 548.3h.9v.9h-.9zM364.1 528.0h.9v.9h-.9zM366.3 527.9h.9v.9h-.9zM354.8 547.6h.9v.9h-.9zM355.6 530.9h.9v.9h-.9zM342.7 544.9h.9v.9h-.9zM367.9 527.1h.9v.9h-.9zM344.0 545.5h.9v.9h-.9zM375.5 528.5h.9v.9h-.9zM374.6 545.4h.9v.9h-.9zM377.4 533.8h.9v.9h-.9zM346.8 534.5h.9v.9h-.9zM338.1 542.3h.9v.9h-.9zM363.1 527.6h.9v.9h-.9zM377.3 541.2h.9v.9h-.9zM377.4 533.5h.9v.9h-.9zM371.9 527.7h.9v.9h-.9zM341.1 540.6h.9v.9h-.9zM352.0 547.7h.9v.9h-.9zM353.8 531.4h.9v.9h-.9zM378.3 536.3h.9v.9h-.9zM352.0 547.2h.9v.9h-.9zM377.0 543.8h.9v.9h-.9zM376.9 543.9h.9v.9h-.9zM378.8 539.6h.9v.9h-.9zM375.9 528.9h.9v.9h-.9zM364.0 549.1h.9v.9h-.9zM357.6 549.0h.9v.9h-.9zM360.9 549.0h.9v.9h-.9zM378.1 535.6h.9v.9h-.9zM351.7 532.4h.9v.9h-.9zM347.1 535.5h.9v.9h-.9zM338.9 543.5h.9v.9h-.9z" fill="#aea6e2"/>
<g transform="translate(363.2,538.5)" filter="url(#bl2)"><path d="M-7.48,-0.98 Q-3.90,-5.20 0.98,-8.12 Q5.85,-11.05 6.70,-6.83 Q7.54,-2.60 6.50,2.08 Q5.46,6.76 1.43,6.96 Q-2.60,7.15 -6.83,5.20 Q-11.05,3.25 -7.48,-0.98Z" fill="#2440c4"/><path d="M-5.75,-0.75 Q-3.00,-4.00 0.75,-6.25 Q4.50,-8.50 5.15,-5.25 Q5.80,-2.00 5.00,1.60 Q4.20,5.20 1.10,5.35 Q-2.00,5.50 -5.25,4.00 Q-8.50,2.50 -5.75,-0.75Z" fill="#32b4d8"/><ellipse rx="3.0" ry="4.0" fill="#4cc85a" transform="rotate(25)"/><ellipse rx="1.5" ry="2.5" fill="#b4d820" transform="rotate(25)"/></g>
<rect x="370.4" y="513.0" width="25.700000000000003" height="53.5" fill="none" stroke="#8fb08f" stroke-width="0.6"/>
<text x="371.7" y="520.36" font-size="4.6" fill="#5a8a5a" >P6(5.45%)</text>
<text x="328.0" y="514.4" font-size="6.2" text-anchor="end" fill="#444">10<tspan font-size="4" dy="-2.6">6</tspan></text>
<text x="328.0" y="527.7" font-size="6.2" text-anchor="end" fill="#444">10<tspan font-size="4" dy="-2.6">5</tspan></text>
<text x="328.0" y="541.0" font-size="6.2" text-anchor="end" fill="#444">10<tspan font-size="4" dy="-2.6">4</tspan></text>
<text x="328.0" y="554.3" font-size="6.2" text-anchor="end" fill="#444">10<tspan font-size="4" dy="-2.6">3</tspan></text>
<text x="328.0" y="567.6" font-size="6.2" text-anchor="end" fill="#444">10<tspan font-size="4" dy="-2.6">2</tspan></text>
<text font-size="6.2" fill="#444" text-anchor="middle" transform="translate(332.6,575.9) rotate(-45)">0</text>
<text font-size="6.2" fill="#444" text-anchor="middle" transform="translate(348.6,575.9) rotate(-45)">10<tspan font-size="4" dy="-2.6">1</tspan></text>
<text font-size="6.2" fill="#444" text-anchor="middle" transform="translate(358.2,575.9) rotate(-45)">10<tspan font-size="4" dy="-2.6">2</tspan></text>
<text font-size="6.2" fill="#444" text-anchor="middle" transform="translate(367.9,575.9) rotate(-45)">10<tspan font-size="4" dy="-2.6">3</tspan></text>
<text font-size="6.2" fill="#444" text-anchor="middle" transform="translate(377.9,575.9) rotate(-45)">10<tspan font-size="4" dy="-2.6">4</tspan></text>
<text font-size="6.2" fill="#444" text-anchor="middle" transform="translate(387.9,575.9) rotate(-45)">10<tspan font-size="4" dy="-2.6">5</tspan></text>
<text font-size="6.2" fill="#444" text-anchor="middle" transform="translate(397.9,575.9) rotate(-45)">10<tspan font-size="4" dy="-2.6">6</tspan></text>
<text x="364.2" y="592.17" font-size="8.8" text-anchor="middle" stroke="#3a3a3a" stroke-width="0.12" fill="#3a3a3a" textLength="20.5" lengthAdjust="spacingAndGlyphs" >FITC-A</text>
<text x="0" y="3.17" font-size="8.8" text-anchor="middle" stroke="#3a3a3a" stroke-width="0.12" fill="#3a3a3a" textLength="17.8" lengthAdjust="spacingAndGlyphs" transform="translate(309.7,539.5) rotate(-90)" >SSC-A</text>
<text x="473.2" y="508.66" font-size="7.1" text-anchor="middle" stroke="#231f20" stroke-width="0.05" fill="#231f20" >16-2 : P2</text>
<rect x="440.4" y="512.1" width="66" height="54.6" fill="#fff" stroke="#aaa" stroke-width="0.8"/>
<defs><radialGradient id="rg1" gradientUnits="userSpaceOnUse" cx="472.0" cy="538.9" r="24" gradientTransform="translate(472.0,538.9) scale(1,0.62) translate(-472.0,-538.9)"><stop offset="0" stop-color="#22148a"/><stop offset="0.45" stop-color="#2c1a98"/><stop offset="0.7" stop-color="#4432b2"/><stop offset="0.9" stop-color="#6e60c8"/><stop offset="1" stop-color="#9a90dc"/></radialGradient></defs>
<path d="M450.5,541.9 L454.0,537.9 L460.0,534.4 L466.0,531.9 L473.0,529.9 L480.0,529.6 L484.5,532.4 L486.0,537.4 L485.0,542.9 L481.5,546.4 L475.0,547.9 L468.0,547.7 L461.0,546.4 L454.0,544.9 Z" fill="url(#rg1)" filter="url(#bl2)"/>
<path d="M473.8 531.1h.9v.9h-.9zM469.1 547.0h.9v.9h-.9zM483.7 540.3h.9v.9h-.9zM469.6 531.4h.9v.9h-.9zM480.6 545.5h.9v.9h-.9zM460.4 545.5h.9v.9h-.9zM454.6 542.7h.9v.9h-.9zM484.7 540.2h.9v.9h-.9zM480.0 546.2h.9v.9h-.9zM463.5 546.2h.9v.9h-.9zM461.1 546.0h.9v.9h-.9zM455.7 538.6h.9v.9h-.9zM456.1 544.4h.9v.9h-.9zM482.2 532.0h.9v.9h-.9zM464.9 547.0h.9v.9h-.9zM477.1 530.8h.9v.9h-.9zM479.8 546.6h.9v.9h-.9zM452.4 543.5h.9v.9h-.9zM484.4 533.4h.9v.9h-.9zM470.0 531.2h.9v.9h-.9zM483.6 534.8h.9v.9h-.9zM484.8 537.4h.9v.9h-.9zM455.5 537.6h.9v.9h-.9zM465.7 546.5h.9v.9h-.9zM476.5 547.5h.9v.9h-.9zM467.4 532.0h.9v.9h-.9zM484.9 538.3h.9v.9h-.9zM459.6 534.8h.9v.9h-.9zM483.0 533.0h.9v.9h-.9zM485.1 538.4h.9v.9h-.9zM456.4 538.3h.9v.9h-.9zM474.9 530.0h.9v.9h-.9zM473.7 547.1h.9v.9h-.9zM454.1 539.2h.9v.9h-.9zM482.5 532.5h.9v.9h-.9zM470.3 547.5h.9v.9h-.9zM459.7 545.0h.9v.9h-.9zM455.1 542.8h.9v.9h-.9zM472.0 547.2h.9v.9h-.9zM480.7 544.8h.9v.9h-.9zM460.3 545.5h.9v.9h-.9zM484.9 536.0h.9v.9h-.9zM456.2 537.0h.9v.9h-.9zM456.1 545.1h.9v.9h-.9zM452.9 543.8h.9v.9h-.9zM451.9 542.5h.9v.9h-.9zM477.5 546.1h.9v.9h-.9zM467.4 546.7h.9v.9h-.9zM468.3 531.8h.9v.9h-.9zM453.8 539.0h.9v.9h-.9zM454.4 538.2h.9v.9h-.9zM458.2 536.6h.9v.9h-.9zM460.3 545.6h.9v.9h-.9zM477.6 546.8h.9v.9h-.9zM455.4 544.4h.9v.9h-.9zM476.7 530.7h.9v.9h-.9zM473.7 530.8h.9v.9h-.9zM473.7 531.2h.9v.9h-.9zM469.5 547.6h.9v.9h-.9zM482.6 542.9h.9v.9h-.9zM471.8 547.0h.9v.9h-.9zM467.8 531.5h.9v.9h-.9zM454.2 544.7h.9v.9h-.9zM452.7 543.5h.9v.9h-.9zM452.5 540.7h.9v.9h-.9zM464.7 546.3h.9v.9h-.9zM452.7 541.4h.9v.9h-.9zM471.7 531.4h.9v.9h-.9zM457.5 536.6h.9v.9h-.9zM484.5 542.1h.9v.9h-.9zM461.7 534.6h.9v.9h-.9zM468.9 532.3h.9v.9h-.9zM468.9 546.9h.9v.9h-.9zM480.2 546.0h.9v.9h-.9zM478.6 530.6h.9v.9h-.9zM454.4 543.5h.9v.9h-.9zM484.8 535.2h.9v.9h-.9zM483.6 534.9h.9v.9h-.9zM474.7 530.5h.9v.9h-.9zM469.5 532.0h.9v.9h-.9zM473.3 530.1h.9v.9h-.9zM464.6 533.4h.9v.9h-.9z" fill="#2a1a90"/>
<path d="M486.8 536.0h.9v.9h-.9zM486.8 539.9h.9v.9h-.9zM455.9 545.5h.9v.9h-.9zM479.9 546.0h.9v.9h-.9zM486.9 536.7h.9v.9h-.9zM452.2 539.3h.9v.9h-.9zM467.8 532.1h.9v.9h-.9zM455.1 536.4h.9v.9h-.9zM477.0 530.9h.9v.9h-.9zM450.9 540.1h.9v.9h-.9zM485.1 537.8h.9v.9h-.9zM452.5 539.6h.9v.9h-.9zM471.2 548.5h.9v.9h-.9zM478.1 529.6h.9v.9h-.9zM456.2 545.2h.9v.9h-.9zM486.9 536.2h.9v.9h-.9zM486.0 532.9h.9v.9h-.9zM479.7 546.1h.9v.9h-.9zM452.2 544.8h.9v.9h-.9zM471.5 546.9h.9v.9h-.9zM462.2 546.6h.9v.9h-.9zM458.9 544.6h.9v.9h-.9zM484.1 532.0h.9v.9h-.9zM452.7 541.5h.9v.9h-.9zM453.9 539.3h.9v.9h-.9zM470.9 548.6h.9v.9h-.9zM468.5 530.4h.9v.9h-.9zM484.5 537.4h.9v.9h-.9zM484.0 539.7h.9v.9h-.9zM475.2 529.4h.9v.9h-.9zM482.2 543.3h.9v.9h-.9zM457.2 544.4h.9v.9h-.9zM468.7 531.1h.9v.9h-.9zM467.0 547.8h.9v.9h-.9zM457.7 536.7h.9v.9h-.9zM457.2 545.2h.9v.9h-.9zM451.8 544.0h.9v.9h-.9zM467.7 548.0h.9v.9h-.9zM451.7 541.3h.9v.9h-.9zM481.6 532.3h.9v.9h-.9zM482.6 543.8h.9v.9h-.9zM485.9 542.0h.9v.9h-.9zM486.3 541.5h.9v.9h-.9zM484.8 544.6h.9v.9h-.9zM462.8 532.5h.9v.9h-.9zM470.5 548.5h.9v.9h-.9zM485.6 539.6h.9v.9h-.9zM455.7 545.0h.9v.9h-.9zM460.6 533.7h.9v.9h-.9zM450.9 539.6h.9v.9h-.9zM455.5 536.7h.9v.9h-.9zM485.9 539.7h.9v.9h-.9zM485.5 535.5h.9v.9h-.9zM478.4 547.6h.9v.9h-.9zM479.1 529.2h.9v.9h-.9zM486.5 537.0h.9v.9h-.9zM466.0 546.3h.9v.9h-.9zM480.0 547.2h.9v.9h-.9zM458.2 536.9h.9v.9h-.9zM463.2 532.6h.9v.9h-.9zM455.9 536.3h.9v.9h-.9zM467.4 547.2h.9v.9h-.9zM460.2 545.2h.9v.9h-.9zM484.5 532.7h.9v.9h-.9zM480.4 547.4h.9v.9h-.9zM452.6 540.2h.9v.9h-.9zM467.7 547.2h.9v.9h-.9zM453.8 545.7h.9v.9h-.9zM471.8 531.0h.9v.9h-.9zM472.0 547.6h.9v.9h-.9zM482.9 533.3h.9v.9h-.9zM481.4 547.2h.9v.9h-.9zM483.8 531.7h.9v.9h-.9zM469.0 530.4h.9v.9h-.9zM453.7 545.3h.9v.9h-.9zM462.3 546.7h.9v.9h-.9zM452.9 538.5h.9v.9h-.9zM475.2 548.7h.9v.9h-.9zM460.4 535.5h.9v.9h-.9zM455.5 546.1h.9v.9h-.9zM481.0 529.4h.9v.9h-.9zM471.1 530.2h.9v.9h-.9zM465.6 531.8h.9v.9h-.9zM453.5 545.5h.9v.9h-.9zM473.9 548.6h.9v.9h-.9zM471.1 531.5h.9v.9h-.9z" fill="#4a36b4"/>
<path d="M486.7 536.9h.9v.9h-.9zM484.3 545.0h.9v.9h-.9zM485.5 542.4h.9v.9h-.9zM467.9 530.2h.9v.9h-.9zM457.6 533.4h.9v.9h-.9zM449.5 540.4h.9v.9h-.9zM483.2 545.8h.9v.9h-.9zM486.5 535.1h.9v.9h-.9zM460.2 533.9h.9v.9h-.9zM453.5 545.2h.9v.9h-.9zM483.4 530.8h.9v.9h-.9zM480.8 548.0h.9v.9h-.9zM451.3 545.0h.9v.9h-.9zM487.7 539.4h.9v.9h-.9zM483.1 544.9h.9v.9h-.9zM486.1 541.0h.9v.9h-.9zM463.1 547.0h.9v.9h-.9zM460.6 533.3h.9v.9h-.9zM476.2 548.1h.9v.9h-.9zM447.6 540.9h.9v.9h-.9zM482.3 530.0h.9v.9h-.9zM479.1 548.8h.9v.9h-.9zM448.1 540.3h.9v.9h-.9zM469.3 548.9h.9v.9h-.9zM463.0 547.5h.9v.9h-.9zM484.5 544.4h.9v.9h-.9zM458.8 534.2h.9v.9h-.9zM464.8 530.5h.9v.9h-.9zM466.9 549.5h.9v.9h-.9zM482.1 529.3h.9v.9h-.9zM462.8 548.6h.9v.9h-.9zM486.1 545.4h.9v.9h-.9zM462.6 547.8h.9v.9h-.9zM473.5 549.1h.9v.9h-.9zM452.2 545.0h.9v.9h-.9zM447.6 542.7h.9v.9h-.9zM486.7 543.9h.9v.9h-.9zM481.3 528.3h.9v.9h-.9zM482.0 530.2h.9v.9h-.9zM486.4 542.4h.9v.9h-.9zM450.4 540.1h.9v.9h-.9zM486.8 543.6h.9v.9h-.9zM467.8 547.9h.9v.9h-.9zM479.4 527.8h.9v.9h-.9zM483.6 529.3h.9v.9h-.9zM482.2 528.5h.9v.9h-.9zM453.2 537.5h.9v.9h-.9zM455.3 546.7h.9v.9h-.9zM467.6 531.0h.9v.9h-.9zM472.6 528.7h.9v.9h-.9zM485.4 534.4h.9v.9h-.9zM488.1 535.3h.9v.9h-.9zM455.8 536.3h.9v.9h-.9zM452.8 546.0h.9v.9h-.9zM463.6 546.9h.9v.9h-.9zM471.3 529.4h.9v.9h-.9zM484.3 531.8h.9v.9h-.9zM474.2 529.3h.9v.9h-.9zM479.5 549.0h.9v.9h-.9z" fill="#7a6cd0"/>
<path d="M488.3 538.7h.9v.9h-.9zM447.1 543.4h.9v.9h-.9zM446.5 542.7h.9v.9h-.9zM486.8 544.3h.9v.9h-.9zM488.8 537.5h.9v.9h-.9zM486.0 544.7h.9v.9h-.9zM447.4 542.9h.9v.9h-.9zM477.5 528.2h.9v.9h-.9zM464.9 548.4h.9v.9h-.9zM462.8 548.1h.9v.9h-.9zM482.9 547.1h.9v.9h-.9zM448.3 544.0h.9v.9h-.9zM478.1 548.7h.9v.9h-.9zM485.6 545.3h.9v.9h-.9zM449.7 544.6h.9v.9h-.9zM487.1 533.5h.9v.9h-.9zM485.0 530.6h.9v.9h-.9zM449.2 540.5h.9v.9h-.9zM484.6 530.9h.9v.9h-.9zM479.4 528.5h.9v.9h-.9zM475.2 528.3h.9v.9h-.9zM447.1 541.2h.9v.9h-.9zM488.3 538.9h.9v.9h-.9zM487.8 534.9h.9v.9h-.9zM474.6 549.1h.9v.9h-.9zM473.7 549.5h.9v.9h-.9zM457.4 534.2h.9v.9h-.9zM487.5 542.1h.9v.9h-.9zM460.8 532.7h.9v.9h-.9zM483.5 547.5h.9v.9h-.9zM459.6 547.2h.9v.9h-.9zM474.9 527.9h.9v.9h-.9zM488.3 536.4h.9v.9h-.9z" fill="#aea6e2"/>
<g transform="translate(472.0,538.9) rotate(-25)" filter="url(#bl2)"><ellipse rx="7.8" ry="6.0" fill="#2440c4"/><ellipse rx="6.2" ry="5.0" fill="#32b4d8"/><ellipse rx="3.4" ry="2.9" fill="#4cc85a" cx="0.5"/><ellipse rx="1.7" ry="1.8" fill="#b4d820" cx="0.6"/></g>
<rect x="479.79999999999995" y="513.0" width="25.700000000000003" height="53.5" fill="none" stroke="#8fb08f" stroke-width="0.6"/>
<text x="481.1" y="520.36" font-size="4.6" fill="#5a8a5a" >P6(8.53%)</text>
<text x="437.4" y="514.4" font-size="6.2" text-anchor="end" fill="#444">10<tspan font-size="4" dy="-2.6">6</tspan></text>
<text x="437.4" y="527.7" font-size="6.2" text-anchor="end" fill="#444">10<tspan font-size="4" dy="-2.6">5</tspan></text>
<text x="437.4" y="541.0" font-size="6.2" text-anchor="end" fill="#444">10<tspan font-size="4" dy="-2.6">4</tspan></text>
<text x="437.4" y="554.3" font-size="6.2" text-anchor="end" fill="#444">10<tspan font-size="4" dy="-2.6">3</tspan></text>
<text x="437.4" y="567.6" font-size="6.2" text-anchor="end" fill="#444">10<tspan font-size="4" dy="-2.6">2</tspan></text>
<text font-size="6.2" fill="#444" text-anchor="middle" transform="translate(442.0,575.9) rotate(-45)">0</text>
<text font-size="6.2" fill="#444" text-anchor="middle" transform="translate(458.0,575.9) rotate(-45)">10<tspan font-size="4" dy="-2.6">1</tspan></text>
<text font-size="6.2" fill="#444" text-anchor="middle" transform="translate(467.6,575.9) rotate(-45)">10<tspan font-size="4" dy="-2.6">2</tspan></text>
<text font-size="6.2" fill="#444" text-anchor="middle" transform="translate(477.3,575.9) rotate(-45)">10<tspan font-size="4" dy="-2.6">3</tspan></text>
<text font-size="6.2" fill="#444" text-anchor="middle" transform="translate(487.3,575.9) rotate(-45)">10<tspan font-size="4" dy="-2.6">4</tspan></text>
<text font-size="6.2" fill="#444" text-anchor="middle" transform="translate(497.3,575.9) rotate(-45)">10<tspan font-size="4" dy="-2.6">5</tspan></text>
<text font-size="6.2" fill="#444" text-anchor="middle" transform="translate(507.3,575.9) rotate(-45)">10<tspan font-size="4" dy="-2.6">6</tspan></text>
<text x="473.6" y="592.17" font-size="8.8" text-anchor="middle" stroke="#3a3a3a" stroke-width="0.12" fill="#3a3a3a" textLength="20.5" lengthAdjust="spacingAndGlyphs" >FITC-A</text>
<text x="0" y="3.17" font-size="8.8" text-anchor="middle" stroke="#3a3a3a" stroke-width="0.12" fill="#3a3a3a" textLength="17.8" lengthAdjust="spacingAndGlyphs" transform="translate(419.1,539.5) rotate(-90)" >SSC-A</text>
<text x="363.8" y="608.46" font-size="7.1" text-anchor="middle" stroke="#231f20" stroke-width="0.05" fill="#231f20" >14-6 : P2</text>
<rect x="331.0" y="611.9" width="66" height="54.6" fill="#fff" stroke="#aaa" stroke-width="0.8"/>
<defs><radialGradient id="rg10" gradientUnits="userSpaceOnUse" cx="364.4" cy="636.9" r="24" gradientTransform="translate(364.4,636.9) scale(1,0.62) translate(-364.4,-636.9)"><stop offset="0" stop-color="#22148a"/><stop offset="0.45" stop-color="#2c1a98"/><stop offset="0.7" stop-color="#4432b2"/><stop offset="0.9" stop-color="#6e60c8"/><stop offset="1" stop-color="#9a90dc"/></radialGradient></defs>
<path d="M342.4,641.4 L346.4,636.9 L352.4,633.4 L359.4,630.4 L367.4,627.9 L373.9,626.4 L377.9,628.4 L378.4,634.9 L375.9,641.9 L371.4,646.9 L365.4,649.9 L360.4,648.4 L353.4,645.9 L346.4,644.4 Z" fill="url(#rg10)" filter="url(#bl2)"/>
<path d="M362.9 629.8h.9v.9h-.9zM374.0 643.0h.9v.9h-.9zM347.7 643.4h.9v.9h-.9zM363.2 648.6h.9v.9h-.9zM364.7 629.0h.9v.9h-.9zM364.3 648.3h.9v.9h-.9zM345.1 641.1h.9v.9h-.9zM352.6 634.4h.9v.9h-.9zM361.9 647.8h.9v.9h-.9zM364.2 649.2h.9v.9h-.9zM365.7 629.4h.9v.9h-.9zM376.9 635.3h.9v.9h-.9zM347.2 638.8h.9v.9h-.9zM358.3 646.9h.9v.9h-.9zM367.0 628.3h.9v.9h-.9zM375.3 641.2h.9v.9h-.9zM353.4 644.5h.9v.9h-.9zM362.3 648.3h.9v.9h-.9zM358.9 646.4h.9v.9h-.9zM371.4 646.2h.9v.9h-.9zM347.9 642.8h.9v.9h-.9zM365.6 648.6h.9v.9h-.9zM371.1 646.2h.9v.9h-.9zM354.3 633.2h.9v.9h-.9zM371.3 646.4h.9v.9h-.9zM373.6 644.1h.9v.9h-.9zM378.2 635.1h.9v.9h-.9zM375.5 627.5h.9v.9h-.9zM349.7 644.2h.9v.9h-.9zM348.1 643.9h.9v.9h-.9zM372.1 646.0h.9v.9h-.9zM348.2 636.2h.9v.9h-.9zM366.0 628.4h.9v.9h-.9zM371.8 644.7h.9v.9h-.9zM344.6 641.7h.9v.9h-.9zM355.2 632.6h.9v.9h-.9zM352.3 644.6h.9v.9h-.9zM377.5 634.1h.9v.9h-.9zM351.5 635.4h.9v.9h-.9zM360.8 630.9h.9v.9h-.9zM358.5 631.4h.9v.9h-.9zM370.0 628.1h.9v.9h-.9zM368.6 628.5h.9v.9h-.9zM356.3 646.9h.9v.9h-.9zM375.4 628.8h.9v.9h-.9zM347.5 637.3h.9v.9h-.9zM376.5 628.3h.9v.9h-.9zM358.9 630.7h.9v.9h-.9zM360.0 646.8h.9v.9h-.9zM376.7 637.2h.9v.9h-.9zM377.2 634.5h.9v.9h-.9zM375.6 639.0h.9v.9h-.9zM374.0 643.7h.9v.9h-.9zM349.2 644.2h.9v.9h-.9zM353.8 646.0h.9v.9h-.9zM374.8 643.1h.9v.9h-.9zM352.1 644.7h.9v.9h-.9zM363.1 648.1h.9v.9h-.9zM353.2 634.3h.9v.9h-.9zM361.6 647.8h.9v.9h-.9zM376.6 635.7h.9v.9h-.9zM368.8 646.4h.9v.9h-.9zM357.8 632.1h.9v.9h-.9zM362.2 648.3h.9v.9h-.9zM355.3 646.1h.9v.9h-.9zM361.5 630.4h.9v.9h-.9zM349.0 644.8h.9v.9h-.9zM356.9 646.9h.9v.9h-.9zM376.6 636.4h.9v.9h-.9zM366.6 647.8h.9v.9h-.9zM369.9 627.9h.9v.9h-.9zM349.2 643.5h.9v.9h-.9zM364.1 649.0h.9v.9h-.9zM362.1 630.3h.9v.9h-.9zM344.4 639.7h.9v.9h-.9z" fill="#2a1a90"/>
<path d="M378.3 638.3h.9v.9h-.9zM343.0 639.7h.9v.9h-.9zM357.8 645.6h.9v.9h-.9zM374.1 645.0h.9v.9h-.9zM371.7 647.2h.9v.9h-.9zM349.6 644.2h.9v.9h-.9zM345.6 636.5h.9v.9h-.9zM368.7 628.3h.9v.9h-.9zM354.7 647.7h.9v.9h-.9zM377.0 633.9h.9v.9h-.9zM366.9 627.9h.9v.9h-.9zM344.8 637.3h.9v.9h-.9zM375.2 628.9h.9v.9h-.9zM343.9 638.0h.9v.9h-.9zM352.3 633.3h.9v.9h-.9zM359.5 646.6h.9v.9h-.9zM362.6 650.2h.9v.9h-.9zM371.9 644.3h.9v.9h-.9zM344.2 638.0h.9v.9h-.9zM345.5 645.0h.9v.9h-.9zM349.8 634.6h.9v.9h-.9zM364.7 628.6h.9v.9h-.9zM355.1 631.8h.9v.9h-.9zM356.3 631.6h.9v.9h-.9zM358.4 632.1h.9v.9h-.9zM344.2 640.6h.9v.9h-.9zM369.3 627.4h.9v.9h-.9zM379.6 632.6h.9v.9h-.9zM344.3 644.3h.9v.9h-.9zM365.1 629.0h.9v.9h-.9zM367.1 649.8h.9v.9h-.9zM378.6 632.6h.9v.9h-.9zM352.7 634.0h.9v.9h-.9zM356.5 631.2h.9v.9h-.9zM376.0 640.5h.9v.9h-.9zM371.4 626.7h.9v.9h-.9zM361.2 647.9h.9v.9h-.9zM362.2 630.4h.9v.9h-.9zM357.1 630.9h.9v.9h-.9zM368.4 649.4h.9v.9h-.9zM359.4 629.9h.9v.9h-.9zM345.9 636.9h.9v.9h-.9zM369.5 647.0h.9v.9h-.9zM366.1 650.3h.9v.9h-.9zM378.6 629.4h.9v.9h-.9zM361.8 646.9h.9v.9h-.9zM343.9 642.1h.9v.9h-.9zM361.3 629.1h.9v.9h-.9zM375.8 637.3h.9v.9h-.9zM375.4 644.0h.9v.9h-.9zM376.1 636.5h.9v.9h-.9zM343.4 644.1h.9v.9h-.9zM360.3 629.8h.9v.9h-.9zM349.0 635.4h.9v.9h-.9zM368.5 648.7h.9v.9h-.9zM351.3 633.5h.9v.9h-.9zM350.8 635.4h.9v.9h-.9zM350.7 644.2h.9v.9h-.9zM368.6 627.1h.9v.9h-.9zM355.4 631.5h.9v.9h-.9zM377.5 632.8h.9v.9h-.9zM365.4 650.3h.9v.9h-.9zM363.9 648.6h.9v.9h-.9zM366.3 648.8h.9v.9h-.9zM363.5 628.9h.9v.9h-.9zM365.4 648.8h.9v.9h-.9zM361.7 650.0h.9v.9h-.9zM344.4 638.5h.9v.9h-.9zM378.6 629.2h.9v.9h-.9zM359.5 646.6h.9v.9h-.9zM353.9 646.2h.9v.9h-.9zM342.8 640.5h.9v.9h-.9zM341.5 642.5h.9v.9h-.9zM344.3 643.1h.9v.9h-.9zM345.1 637.1h.9v.9h-.9zM362.4 647.2h.9v.9h-.9z" fill="#4a36b4"/>
<path d="M380.6 636.9h.9v.9h-.9zM340.9 641.3h.9v.9h-.9zM381.1 632.2h.9v.9h-.9zM348.9 634.5h.9v.9h-.9zM346.8 645.7h.9v.9h-.9zM379.0 633.3h.9v.9h-.9zM344.0 643.7h.9v.9h-.9zM365.0 650.3h.9v.9h-.9zM344.5 644.4h.9v.9h-.9zM350.8 646.3h.9v.9h-.9zM342.3 644.5h.9v.9h-.9zM343.8 643.1h.9v.9h-.9zM363.5 628.7h.9v.9h-.9zM339.1 641.7h.9v.9h-.9zM378.8 636.6h.9v.9h-.9zM342.6 642.3h.9v.9h-.9zM338.8 643.0h.9v.9h-.9zM370.9 647.5h.9v.9h-.9zM366.0 650.7h.9v.9h-.9zM377.4 643.8h.9v.9h-.9zM339.3 640.9h.9v.9h-.9zM340.1 642.9h.9v.9h-.9zM366.0 651.2h.9v.9h-.9zM359.8 650.9h.9v.9h-.9zM379.9 628.0h.9v.9h-.9zM352.9 631.7h.9v.9h-.9zM339.3 640.6h.9v.9h-.9zM363.9 651.0h.9v.9h-.9zM377.2 640.4h.9v.9h-.9zM372.0 647.5h.9v.9h-.9zM367.5 626.7h.9v.9h-.9zM373.3 625.5h.9v.9h-.9zM379.1 639.2h.9v.9h-.9zM343.3 643.5h.9v.9h-.9zM340.4 641.2h.9v.9h-.9zM341.9 642.6h.9v.9h-.9zM359.7 648.7h.9v.9h-.9zM360.4 648.7h.9v.9h-.9zM349.5 634.8h.9v.9h-.9zM381.1 630.4h.9v.9h-.9zM378.4 626.9h.9v.9h-.9zM363.8 651.1h.9v.9h-.9zM341.2 639.8h.9v.9h-.9zM361.6 651.2h.9v.9h-.9zM356.0 646.9h.9v.9h-.9zM366.4 649.6h.9v.9h-.9zM379.6 638.6h.9v.9h-.9zM351.8 631.9h.9v.9h-.9zM360.9 628.9h.9v.9h-.9zM370.3 649.1h.9v.9h-.9zM353.1 647.4h.9v.9h-.9zM379.7 627.1h.9v.9h-.9zM378.8 633.9h.9v.9h-.9zM379.7 631.3h.9v.9h-.9zM378.0 636.5h.9v.9h-.9zM339.3 643.5h.9v.9h-.9zM380.2 628.2h.9v.9h-.9zM374.7 646.2h.9v.9h-.9zM343.2 638.2h.9v.9h-.9zM342.3 640.2h.9v.9h-.9zM364.2 627.5h.9v.9h-.9zM355.4 631.3h.9v.9h-.9zM370.0 649.9h.9v.9h-.9zM379.8 633.8h.9v.9h-.9zM343.0 642.0h.9v.9h-.9zM347.0 635.1h.9v.9h-.9zM372.7 646.7h.9v.9h-.9zM349.2 634.5h.9v.9h-.9z" fill="#7a6cd0"/>
<path d="M359.4 628.7h.9v.9h-.9zM344.4 636.7h.9v.9h-.9zM359.4 650.4h.9v.9h-.9zM352.6 631.9h.9v.9h-.9zM375.9 644.5h.9v.9h-.9zM338.8 641.3h.9v.9h-.9zM338.5 642.2h.9v.9h-.9zM361.9 628.2h.9v.9h-.9zM379.1 637.1h.9v.9h-.9zM342.0 644.7h.9v.9h-.9zM341.7 643.3h.9v.9h-.9zM340.0 640.8h.9v.9h-.9zM373.7 625.3h.9v.9h-.9zM357.1 650.0h.9v.9h-.9zM368.0 650.2h.9v.9h-.9zM368.4 650.9h.9v.9h-.9zM356.6 649.5h.9v.9h-.9zM378.7 641.9h.9v.9h-.9zM348.0 646.8h.9v.9h-.9zM379.8 638.3h.9v.9h-.9zM378.6 641.7h.9v.9h-.9zM380.4 632.1h.9v.9h-.9zM367.6 651.0h.9v.9h-.9zM357.2 630.4h.9v.9h-.9zM339.9 643.5h.9v.9h-.9zM372.4 648.6h.9v.9h-.9zM356.3 649.8h.9v.9h-.9zM339.6 640.6h.9v.9h-.9zM348.6 634.5h.9v.9h-.9zM362.5 627.8h.9v.9h-.9zM375.2 645.8h.9v.9h-.9zM379.1 638.7h.9v.9h-.9zM344.0 636.1h.9v.9h-.9zM354.5 648.3h.9v.9h-.9zM376.5 626.1h.9v.9h-.9zM380.6 636.2h.9v.9h-.9zM378.6 639.2h.9v.9h-.9zM347.1 635.3h.9v.9h-.9zM378.8 626.5h.9v.9h-.9zM366.6 651.3h.9v.9h-.9zM374.8 645.6h.9v.9h-.9z" fill="#aea6e2"/>
<g transform="translate(364.4,637.3)" filter="url(#bl2)"><path d="M-6.50,-1.30 Q-3.90,-5.20 0.65,-7.47 Q5.20,-9.75 6.83,-6.83 Q8.45,-3.90 7.15,1.30 Q5.85,6.50 2.28,7.48 Q-1.30,8.45 -3.90,7.48 Q-6.50,6.50 -7.80,4.55 Q-9.10,2.60 -6.50,-1.30Z" fill="#2440c4"/><path d="M-5.00,-1.00 Q-3.00,-4.00 0.50,-5.75 Q4.00,-7.50 5.25,-5.25 Q6.50,-3.00 5.50,1.00 Q4.50,5.00 1.75,5.75 Q-1.00,6.50 -3.00,5.75 Q-5.00,5.00 -6.00,3.50 Q-7.00,2.00 -5.00,-1.00Z" fill="#32b4d8"/><ellipse rx="3.1" ry="4.2" fill="#4cc85a" transform="rotate(25)"/><ellipse rx="1.5" ry="2.4" fill="#b4d820" transform="rotate(25)"/></g>
<rect x="370.4" y="612.8" width="25.700000000000003" height="53.5" fill="none" stroke="#8fb08f" stroke-width="0.6"/>
<text x="371.7" y="620.16" font-size="4.6" fill="#5a8a5a" >P6(9.64%)</text>
<text x="328.0" y="614.2" font-size="6.2" text-anchor="end" fill="#444">10<tspan font-size="4" dy="-2.6">6</tspan></text>
<text x="328.0" y="627.5" font-size="6.2" text-anchor="end" fill="#444">10<tspan font-size="4" dy="-2.6">5</tspan></text>
<text x="328.0" y="640.8" font-size="6.2" text-anchor="end" fill="#444">10<tspan font-size="4" dy="-2.6">4</tspan></text>
<text x="328.0" y="654.1" font-size="6.2" text-anchor="end" fill="#444">10<tspan font-size="4" dy="-2.6">3</tspan></text>
<text x="328.0" y="667.4" font-size="6.2" text-anchor="end" fill="#444">10<tspan font-size="4" dy="-2.6">2</tspan></text>
<text font-size="6.2" fill="#444" text-anchor="middle" transform="translate(332.6,675.7) rotate(-45)">0</text>
<text font-size="6.2" fill="#444" text-anchor="middle" transform="translate(348.6,675.7) rotate(-45)">10<tspan font-size="4" dy="-2.6">1</tspan></text>
<text font-size="6.2" fill="#444" text-anchor="middle" transform="translate(358.2,675.7) rotate(-45)">10<tspan font-size="4" dy="-2.6">2</tspan></text>
<text font-size="6.2" fill="#444" text-anchor="middle" transform="translate(367.9,675.7) rotate(-45)">10<tspan font-size="4" dy="-2.6">3</tspan></text>
<text font-size="6.2" fill="#444" text-anchor="middle" transform="translate(377.9,675.7) rotate(-45)">10<tspan font-size="4" dy="-2.6">4</tspan></text>
<text font-size="6.2" fill="#444" text-anchor="middle" transform="translate(387.9,675.7) rotate(-45)">10<tspan font-size="4" dy="-2.6">5</tspan></text>
<text font-size="6.2" fill="#444" text-anchor="middle" transform="translate(397.9,675.7) rotate(-45)">10<tspan font-size="4" dy="-2.6">6</tspan></text>
<text x="364.2" y="691.97" font-size="8.8" text-anchor="middle" stroke="#3a3a3a" stroke-width="0.12" fill="#3a3a3a" textLength="20.5" lengthAdjust="spacingAndGlyphs" >FITC-A</text>
<text x="0" y="3.17" font-size="8.8" text-anchor="middle" stroke="#3a3a3a" stroke-width="0.12" fill="#3a3a3a" textLength="17.8" lengthAdjust="spacingAndGlyphs" transform="translate(309.7,639.3) rotate(-90)" >SSC-A</text>
<text x="473.2" y="608.46" font-size="7.1" text-anchor="middle" stroke="#231f20" stroke-width="0.05" fill="#231f20" >16-6 : P2</text>
<rect x="440.4" y="611.9" width="66" height="54.6" fill="#fff" stroke="#aaa" stroke-width="0.8"/>
<defs><radialGradient id="rg11" gradientUnits="userSpaceOnUse" cx="484.2" cy="640.4" r="24" gradientTransform="translate(484.2,640.4) scale(1,0.62) translate(-484.2,-640.4)"><stop offset="0" stop-color="#22148a"/><stop offset="0.45" stop-color="#2c1a98"/><stop offset="0.7" stop-color="#4432b2"/><stop offset="0.9" stop-color="#6e60c8"/><stop offset="1" stop-color="#9a90dc"/></radialGradient></defs>
<path d="M469.2,638.9 L476.2,634.9 L483.2,631.9 L488.2,629.9 L493.4,627.1 L494.0,628.4 L490.7,637.4 L487.7,645.4 L486.0,651.9 L482.7,650.9 L478.2,647.4 L473.2,644.4 L469.2,642.4 Z" fill="url(#rg11)" filter="url(#bl2)"/>
<path d="M471.0 641.1h.9v.9h-.9zM483.7 649.6h.9v.9h-.9zM492.3 629.4h.9v.9h-.9zM473.8 637.6h.9v.9h-.9zM473.4 636.7h.9v.9h-.9zM481.4 633.4h.9v.9h-.9zM488.8 630.0h.9v.9h-.9zM487.1 630.7h.9v.9h-.9zM481.0 649.2h.9v.9h-.9zM487.7 630.4h.9v.9h-.9zM490.2 629.1h.9v.9h-.9zM471.1 642.5h.9v.9h-.9zM493.0 627.9h.9v.9h-.9zM478.1 634.9h.9v.9h-.9zM470.6 639.7h.9v.9h-.9zM474.3 636.1h.9v.9h-.9zM493.6 628.3h.9v.9h-.9zM488.8 629.7h.9v.9h-.9zM489.3 630.4h.9v.9h-.9zM476.9 635.9h.9v.9h-.9zM480.6 648.7h.9v.9h-.9zM482.4 649.1h.9v.9h-.9zM473.1 636.8h.9v.9h-.9zM492.0 633.2h.9v.9h-.9zM477.1 645.8h.9v.9h-.9zM486.1 631.7h.9v.9h-.9zM478.0 634.2h.9v.9h-.9zM486.8 647.3h.9v.9h-.9zM479.6 633.5h.9v.9h-.9zM473.9 636.8h.9v.9h-.9zM493.2 629.4h.9v.9h-.9zM474.0 643.6h.9v.9h-.9zM492.5 629.4h.9v.9h-.9zM472.1 638.3h.9v.9h-.9zM487.9 644.4h.9v.9h-.9zM469.7 639.8h.9v.9h-.9zM474.7 644.6h.9v.9h-.9zM487.3 630.6h.9v.9h-.9zM480.0 633.9h.9v.9h-.9zM475.5 635.3h.9v.9h-.9zM473.6 644.5h.9v.9h-.9zM469.7 639.5h.9v.9h-.9zM474.6 636.6h.9v.9h-.9zM481.2 648.5h.9v.9h-.9zM473.3 643.5h.9v.9h-.9zM486.2 630.9h.9v.9h-.9zM473.3 644.4h.9v.9h-.9zM489.6 640.1h.9v.9h-.9zM479.1 647.2h.9v.9h-.9zM490.6 629.3h.9v.9h-.9zM475.1 636.4h.9v.9h-.9zM488.5 642.4h.9v.9h-.9zM483.8 650.6h.9v.9h-.9zM477.7 646.8h.9v.9h-.9zM476.9 635.1h.9v.9h-.9zM490.1 637.0h.9v.9h-.9zM479.1 647.1h.9v.9h-.9zM487.5 645.6h.9v.9h-.9zM483.3 649.9h.9v.9h-.9zM475.6 645.4h.9v.9h-.9zM476.8 634.7h.9v.9h-.9zM472.8 644.1h.9v.9h-.9zM486.2 631.0h.9v.9h-.9zM470.4 639.1h.9v.9h-.9zM484.1 650.0h.9v.9h-.9zM482.3 632.5h.9v.9h-.9zM470.5 639.5h.9v.9h-.9zM474.7 644.5h.9v.9h-.9zM480.9 648.1h.9v.9h-.9zM476.0 645.8h.9v.9h-.9zM491.5 634.5h.9v.9h-.9z" fill="#2a1a90"/>
<path d="M471.2 639.6h.9v.9h-.9zM470.0 637.5h.9v.9h-.9zM468.2 641.8h.9v.9h-.9zM479.4 634.0h.9v.9h-.9zM477.5 646.6h.9v.9h-.9zM484.5 652.3h.9v.9h-.9zM469.9 642.7h.9v.9h-.9zM480.8 649.7h.9v.9h-.9zM480.8 633.6h.9v.9h-.9zM469.7 637.9h.9v.9h-.9zM486.7 630.0h.9v.9h-.9zM476.2 645.4h.9v.9h-.9zM492.0 634.6h.9v.9h-.9zM481.8 632.8h.9v.9h-.9zM482.3 632.2h.9v.9h-.9zM473.5 645.5h.9v.9h-.9zM483.5 650.2h.9v.9h-.9zM471.8 643.3h.9v.9h-.9zM469.0 639.5h.9v.9h-.9zM494.2 626.7h.9v.9h-.9zM472.1 636.4h.9v.9h-.9zM474.2 646.0h.9v.9h-.9zM476.7 646.8h.9v.9h-.9zM487.1 629.7h.9v.9h-.9zM473.8 637.0h.9v.9h-.9zM472.1 644.3h.9v.9h-.9zM492.8 630.6h.9v.9h-.9zM479.0 648.7h.9v.9h-.9zM492.8 632.5h.9v.9h-.9zM475.4 635.8h.9v.9h-.9zM478.3 647.7h.9v.9h-.9zM493.4 628.5h.9v.9h-.9zM468.6 643.0h.9v.9h-.9zM469.7 638.6h.9v.9h-.9zM477.1 633.8h.9v.9h-.9zM483.0 651.8h.9v.9h-.9zM477.8 634.8h.9v.9h-.9zM486.0 651.2h.9v.9h-.9zM493.9 626.1h.9v.9h-.9zM489.7 639.8h.9v.9h-.9zM468.3 641.0h.9v.9h-.9zM494.1 629.3h.9v.9h-.9zM490.4 638.7h.9v.9h-.9zM491.5 627.5h.9v.9h-.9zM471.9 636.5h.9v.9h-.9zM477.3 633.9h.9v.9h-.9zM476.3 645.9h.9v.9h-.9zM475.8 634.5h.9v.9h-.9zM475.8 645.1h.9v.9h-.9zM487.0 648.3h.9v.9h-.9zM490.3 628.3h.9v.9h-.9zM469.9 643.2h.9v.9h-.9zM476.8 647.5h.9v.9h-.9zM477.5 635.2h.9v.9h-.9zM470.0 643.5h.9v.9h-.9zM490.5 637.9h.9v.9h-.9zM484.6 651.7h.9v.9h-.9zM471.6 644.5h.9v.9h-.9zM485.9 630.2h.9v.9h-.9zM485.9 632.1h.9v.9h-.9zM473.0 636.5h.9v.9h-.9zM478.5 634.4h.9v.9h-.9zM477.1 646.2h.9v.9h-.9zM487.0 648.2h.9v.9h-.9zM475.0 634.7h.9v.9h-.9zM473.1 636.6h.9v.9h-.9zM487.0 649.8h.9v.9h-.9zM475.4 646.6h.9v.9h-.9zM491.5 627.6h.9v.9h-.9zM482.5 650.3h.9v.9h-.9zM471.2 643.0h.9v.9h-.9zM489.2 641.8h.9v.9h-.9zM482.1 631.6h.9v.9h-.9zM490.3 628.8h.9v.9h-.9zM482.2 650.8h.9v.9h-.9zM471.2 642.5h.9v.9h-.9zM476.9 646.2h.9v.9h-.9zM480.2 649.1h.9v.9h-.9zM486.7 648.5h.9v.9h-.9zM492.8 627.4h.9v.9h-.9zM487.0 647.3h.9v.9h-.9zM489.1 641.0h.9v.9h-.9zM479.5 633.6h.9v.9h-.9zM488.2 643.2h.9v.9h-.9zM472.3 636.1h.9v.9h-.9zM472.1 644.0h.9v.9h-.9zM488.8 641.9h.9v.9h-.9zM474.8 645.2h.9v.9h-.9zM468.9 644.0h.9v.9h-.9zM464.7 645.3h.9v.9h-.9zM469.1 643.5h.9v.9h-.9zM467.8 644.6h.9v.9h-.9zM468.4 638.4h.9v.9h-.9zM461.3 640.1h.9v.9h-.9zM467.4 640.4h.9v.9h-.9zM467.2 644.4h.9v.9h-.9zM468.8 643.1h.9v.9h-.9zM469.0 642.5h.9v.9h-.9zM465.2 641.9h.9v.9h-.9zM466.6 643.2h.9v.9h-.9zM464.6 644.6h.9v.9h-.9zM465.4 640.3h.9v.9h-.9zM465.6 644.2h.9v.9h-.9zM459.0 641.9h.9v.9h-.9zM469.5 640.4h.9v.9h-.9z" fill="#4a36b4"/>
<path d="M484.5 629.5h.9v.9h-.9zM479.6 632.4h.9v.9h-.9zM470.4 643.3h.9v.9h-.9zM467.8 640.7h.9v.9h-.9zM493.1 633.9h.9v.9h-.9zM468.8 640.4h.9v.9h-.9zM473.4 645.9h.9v.9h-.9zM469.5 637.8h.9v.9h-.9zM478.5 632.3h.9v.9h-.9zM486.3 653.4h.9v.9h-.9zM490.3 641.2h.9v.9h-.9zM487.3 630.0h.9v.9h-.9zM487.2 647.4h.9v.9h-.9zM491.7 626.9h.9v.9h-.9zM473.9 645.0h.9v.9h-.9zM471.5 645.0h.9v.9h-.9zM474.1 647.2h.9v.9h-.9zM474.5 647.3h.9v.9h-.9zM478.2 649.4h.9v.9h-.9zM469.0 643.9h.9v.9h-.9zM471.0 636.2h.9v.9h-.9zM493.3 631.2h.9v.9h-.9zM483.0 651.8h.9v.9h-.9zM492.5 635.2h.9v.9h-.9zM479.5 633.0h.9v.9h-.9zM485.1 629.7h.9v.9h-.9zM484.7 652.2h.9v.9h-.9zM482.4 631.7h.9v.9h-.9zM490.4 639.4h.9v.9h-.9zM495.5 625.1h.9v.9h-.9zM469.9 637.9h.9v.9h-.9zM482.6 631.3h.9v.9h-.9zM476.7 634.2h.9v.9h-.9zM475.5 647.7h.9v.9h-.9zM466.9 640.6h.9v.9h-.9zM481.6 652.5h.9v.9h-.9zM475.2 646.0h.9v.9h-.9zM475.8 647.3h.9v.9h-.9zM474.3 646.4h.9v.9h-.9zM485.6 630.7h.9v.9h-.9zM492.9 632.2h.9v.9h-.9zM479.2 649.6h.9v.9h-.9zM472.3 636.4h.9v.9h-.9zM480.7 631.0h.9v.9h-.9zM495.0 626.2h.9v.9h-.9zM468.7 644.2h.9v.9h-.9zM480.9 649.5h.9v.9h-.9zM486.0 653.8h.9v.9h-.9zM484.6 653.6h.9v.9h-.9zM477.9 632.6h.9v.9h-.9zM486.6 630.3h.9v.9h-.9zM478.7 648.0h.9v.9h-.9zM494.9 627.2h.9v.9h-.9zM486.7 650.3h.9v.9h-.9zM494.4 626.5h.9v.9h-.9zM477.2 632.7h.9v.9h-.9zM494.3 628.2h.9v.9h-.9zM490.7 637.5h.9v.9h-.9zM475.3 634.8h.9v.9h-.9zM480.9 650.0h.9v.9h-.9zM470.2 637.1h.9v.9h-.9zM474.6 646.2h.9v.9h-.9zM483.4 631.6h.9v.9h-.9zM487.3 628.3h.9v.9h-.9zM478.0 648.2h.9v.9h-.9zM467.3 643.1h.9v.9h-.9zM462.8 641.8h.9v.9h-.9zM466.6 643.3h.9v.9h-.9zM466.9 640.8h.9v.9h-.9zM460.7 640.6h.9v.9h-.9zM462.8 641.0h.9v.9h-.9zM464.0 640.6h.9v.9h-.9zM463.7 639.4h.9v.9h-.9zM461.7 642.2h.9v.9h-.9zM464.5 641.3h.9v.9h-.9zM465.6 638.4h.9v.9h-.9zM469.1 641.9h.9v.9h-.9zM465.4 638.3h.9v.9h-.9zM466.8 636.9h.9v.9h-.9zM462.8 645.0h.9v.9h-.9zM464.8 644.8h.9v.9h-.9zM465.4 636.7h.9v.9h-.9zM465.5 637.5h.9v.9h-.9zM463.1 636.9h.9v.9h-.9zM459.6 642.2h.9v.9h-.9zM462.5 640.3h.9v.9h-.9zM463.7 639.8h.9v.9h-.9zM466.7 637.3h.9v.9h-.9zM468.6 641.7h.9v.9h-.9zM460.2 642.4h.9v.9h-.9zM465.0 644.2h.9v.9h-.9zM466.6 644.2h.9v.9h-.9zM468.7 638.9h.9v.9h-.9zM465.4 645.0h.9v.9h-.9zM460.7 641.9h.9v.9h-.9zM461.3 642.6h.9v.9h-.9zM462.1 639.3h.9v.9h-.9zM466.3 643.4h.9v.9h-.9zM469.4 636.9h.9v.9h-.9zM467.7 639.5h.9v.9h-.9zM465.3 639.7h.9v.9h-.9zM469.8 639.0h.9v.9h-.9zM461.2 639.7h.9v.9h-.9zM463.0 640.0h.9v.9h-.9zM464.6 643.3h.9v.9h-.9z" fill="#7a6cd0"/>
<path d="M479.1 649.9h.9v.9h-.9zM486.7 652.2h.9v.9h-.9zM467.5 640.5h.9v.9h-.9zM469.4 637.2h.9v.9h-.9zM471.7 644.9h.9v.9h-.9zM466.2 642.9h.9v.9h-.9zM479.6 631.9h.9v.9h-.9zM483.1 652.3h.9v.9h-.9zM487.5 648.6h.9v.9h-.9zM466.0 638.7h.9v.9h-.9zM473.8 646.1h.9v.9h-.9zM466.5 642.3h.9v.9h-.9zM484.9 629.4h.9v.9h-.9zM491.5 637.7h.9v.9h-.9zM490.2 627.5h.9v.9h-.9zM468.9 637.8h.9v.9h-.9zM466.7 643.0h.9v.9h-.9zM482.7 630.4h.9v.9h-.9zM467.5 642.0h.9v.9h-.9zM493.7 625.5h.9v.9h-.9zM468.2 643.9h.9v.9h-.9zM477.2 649.1h.9v.9h-.9zM467.4 640.1h.9v.9h-.9zM488.9 644.8h.9v.9h-.9zM486.4 652.5h.9v.9h-.9zM477.1 648.7h.9v.9h-.9zM489.3 628.4h.9v.9h-.9zM466.1 639.0h.9v.9h-.9zM480.4 651.5h.9v.9h-.9zM482.7 653.1h.9v.9h-.9zM483.1 653.0h.9v.9h-.9zM466.3 640.3h.9v.9h-.9zM495.2 627.6h.9v.9h-.9zM489.9 641.9h.9v.9h-.9zM489.2 643.9h.9v.9h-.9zM466.9 638.1h.9v.9h-.9zM457.0 641.6h.9v.9h-.9zM460.3 639.4h.9v.9h-.9zM461.3 639.3h.9v.9h-.9zM462.4 643.7h.9v.9h-.9zM464.6 639.3h.9v.9h-.9zM463.1 642.4h.9v.9h-.9zM456.5 639.3h.9v.9h-.9zM456.5 642.7h.9v.9h-.9zM460.0 642.4h.9v.9h-.9zM462.0 639.9h.9v.9h-.9zM462.8 641.2h.9v.9h-.9zM460.3 639.9h.9v.9h-.9zM456.7 640.5h.9v.9h-.9zM457.5 640.9h.9v.9h-.9zM464.3 642.3h.9v.9h-.9zM460.5 644.2h.9v.9h-.9zM470.1 637.1h.9v.9h-.9zM458.6 640.6h.9v.9h-.9zM464.0 637.3h.9v.9h-.9zM459.9 643.7h.9v.9h-.9zM460.5 644.3h.9v.9h-.9zM461.6 642.2h.9v.9h-.9zM465.9 639.8h.9v.9h-.9zM465.0 639.8h.9v.9h-.9zM457.8 639.6h.9v.9h-.9zM464.0 639.9h.9v.9h-.9zM463.2 643.3h.9v.9h-.9zM466.3 637.1h.9v.9h-.9zM462.7 644.0h.9v.9h-.9zM460.1 641.9h.9v.9h-.9zM456.8 641.9h.9v.9h-.9zM457.7 642.3h.9v.9h-.9zM460.4 638.6h.9v.9h-.9zM457.6 643.0h.9v.9h-.9zM465.7 641.6h.9v.9h-.9zM463.2 637.2h.9v.9h-.9zM459.0 641.4h.9v.9h-.9zM465.1 637.0h.9v.9h-.9zM459.5 640.7h.9v.9h-.9zM458.3 643.4h.9v.9h-.9zM462.1 644.0h.9v.9h-.9zM458.9 642.5h.9v.9h-.9zM465.2 639.7h.9v.9h-.9zM458.1 642.5h.9v.9h-.9zM459.8 640.5h.9v.9h-.9zM463.6 637.6h.9v.9h-.9zM464.3 644.2h.9v.9h-.9zM462.1 638.3h.9v.9h-.9zM468.1 640.7h.9v.9h-.9zM458.4 638.8h.9v.9h-.9zM460.3 640.5h.9v.9h-.9zM467.5 640.0h.9v.9h-.9zM466.0 641.2h.9v.9h-.9z" fill="#aea6e2"/>
<g transform="translate(484.2,640.4) rotate(15)" filter="url(#bl2)"><ellipse rx="3.8" ry="5.5" fill="#2440c4"/><ellipse rx="3.0" ry="4.6" fill="#32b4d8"/><ellipse rx="1.8" ry="2.9" fill="#4cc85a" cx="0.2"/><ellipse rx="0.8" ry="1.7" fill="#b4d820" cx="0.3"/></g>
<rect x="479.79999999999995" y="612.8" width="25.700000000000003" height="53.5" fill="none" stroke="#8fb08f" stroke-width="0.6"/>
<text x="481.1" y="620.16" font-size="4.6" fill="#5a8a5a" >P6(89.85%)</text>
<text x="437.4" y="614.2" font-size="6.2" text-anchor="end" fill="#444">10<tspan font-size="4" dy="-2.6">6</tspan></text>
<text x="437.4" y="627.5" font-size="6.2" text-anchor="end" fill="#444">10<tspan font-size="4" dy="-2.6">5</tspan></text>
<text x="437.4" y="640.8" font-size="6.2" text-anchor="end" fill="#444">10<tspan font-size="4" dy="-2.6">4</tspan></text>
<text x="437.4" y="654.1" font-size="6.2" text-anchor="end" fill="#444">10<tspan font-size="4" dy="-2.6">3</tspan></text>
<text x="437.4" y="667.4" font-size="6.2" text-anchor="end" fill="#444">10<tspan font-size="4" dy="-2.6">2</tspan></text>
<text font-size="6.2" fill="#444" text-anchor="middle" transform="translate(442.0,675.7) rotate(-45)">0</text>
<text font-size="6.2" fill="#444" text-anchor="middle" transform="translate(458.0,675.7) rotate(-45)">10<tspan font-size="4" dy="-2.6">1</tspan></text>
<text font-size="6.2" fill="#444" text-anchor="middle" transform="translate(467.6,675.7) rotate(-45)">10<tspan font-size="4" dy="-2.6">2</tspan></text>
<text font-size="6.2" fill="#444" text-anchor="middle" transform="translate(477.3,675.7) rotate(-45)">10<tspan font-size="4" dy="-2.6">3</tspan></text>
<text font-size="6.2" fill="#444" text-anchor="middle" transform="translate(487.3,675.7) rotate(-45)">10<tspan font-size="4" dy="-2.6">4</tspan></text>
<text font-size="6.2" fill="#444" text-anchor="middle" transform="translate(497.3,675.7) rotate(-45)">10<tspan font-size="4" dy="-2.6">5</tspan></text>
<text font-size="6.2" fill="#444" text-anchor="middle" transform="translate(507.3,675.7) rotate(-45)">10<tspan font-size="4" dy="-2.6">6</tspan></text>
<text x="473.6" y="691.97" font-size="8.8" text-anchor="middle" stroke="#3a3a3a" stroke-width="0.12" fill="#3a3a3a" textLength="20.5" lengthAdjust="spacingAndGlyphs" >FITC-A</text>
<text x="0" y="3.17" font-size="8.8" text-anchor="middle" stroke="#3a3a3a" stroke-width="0.12" fill="#3a3a3a" textLength="17.8" lengthAdjust="spacingAndGlyphs" transform="translate(419.1,639.3) rotate(-90)" >SSC-A</text>
<text x="363.8" y="707.46" font-size="7.1" text-anchor="middle" stroke="#231f20" stroke-width="0.05" fill="#231f20" >14-8 : P2</text>
<rect x="331.0" y="710.9" width="66" height="54.6" fill="#fff" stroke="#aaa" stroke-width="0.8"/>
<defs><radialGradient id="rg20" gradientUnits="userSpaceOnUse" cx="374.8" cy="739.2" r="24" gradientTransform="translate(374.8,739.2) scale(1,0.62) translate(-374.8,-739.2)"><stop offset="0" stop-color="#22148a"/><stop offset="0.45" stop-color="#2c1a98"/><stop offset="0.7" stop-color="#4432b2"/><stop offset="0.9" stop-color="#6e60c8"/><stop offset="1" stop-color="#9a90dc"/></radialGradient></defs>
<path d="M357.8,739.2 L363.8,735.2 L371.8,731.7 L378.8,728.7 L385.7,724.8 L386.3,726.4 L382.3,736.2 L378.3,744.2 L375.4,749.6 L372.3,749.2 L367.8,746.7 L362.8,743.7 L357.8,741.7 Z" fill="url(#rg20)" filter="url(#bl2)"/>
<path d="M374.2 731.9h.9v.9h-.9zM377.2 745.6h.9v.9h-.9zM361.4 736.9h.9v.9h-.9zM369.3 746.3h.9v.9h-.9zM361.7 737.5h.9v.9h-.9zM358.0 741.6h.9v.9h-.9zM370.8 732.2h.9v.9h-.9zM383.2 726.7h.9v.9h-.9zM384.5 727.6h.9v.9h-.9zM375.0 748.9h.9v.9h-.9zM365.3 735.0h.9v.9h-.9zM362.7 743.6h.9v.9h-.9zM384.8 727.5h.9v.9h-.9zM378.0 729.2h.9v.9h-.9zM365.2 743.6h.9v.9h-.9zM363.8 736.3h.9v.9h-.9zM370.7 733.0h.9v.9h-.9zM369.5 747.1h.9v.9h-.9zM377.0 745.5h.9v.9h-.9zM375.9 747.8h.9v.9h-.9zM359.4 740.9h.9v.9h-.9zM361.9 742.8h.9v.9h-.9zM380.0 739.6h.9v.9h-.9zM368.7 733.8h.9v.9h-.9zM378.6 743.3h.9v.9h-.9zM358.4 738.9h.9v.9h-.9zM376.9 745.6h.9v.9h-.9zM380.5 738.3h.9v.9h-.9zM374.1 731.2h.9v.9h-.9zM384.3 727.5h.9v.9h-.9zM375.8 747.4h.9v.9h-.9zM383.2 726.8h.9v.9h-.9zM359.4 741.1h.9v.9h-.9zM384.7 728.8h.9v.9h-.9zM364.7 744.8h.9v.9h-.9zM367.8 733.9h.9v.9h-.9zM364.4 735.6h.9v.9h-.9zM362.5 737.0h.9v.9h-.9zM365.0 735.4h.9v.9h-.9zM362.1 743.4h.9v.9h-.9zM359.1 741.4h.9v.9h-.9zM385.6 724.9h.9v.9h-.9zM366.6 735.3h.9v.9h-.9zM380.4 739.0h.9v.9h-.9zM375.7 748.2h.9v.9h-.9zM379.9 729.0h.9v.9h-.9zM385.3 725.9h.9v.9h-.9zM370.7 733.3h.9v.9h-.9zM368.2 746.2h.9v.9h-.9zM360.9 738.7h.9v.9h-.9zM384.5 730.2h.9v.9h-.9zM375.6 730.7h.9v.9h-.9zM383.7 731.3h.9v.9h-.9zM360.3 742.6h.9v.9h-.9zM385.4 728.2h.9v.9h-.9zM373.8 731.2h.9v.9h-.9zM383.2 733.4h.9v.9h-.9zM374.0 749.4h.9v.9h-.9zM374.2 731.6h.9v.9h-.9zM358.4 740.0h.9v.9h-.9zM368.7 733.8h.9v.9h-.9zM367.0 744.8h.9v.9h-.9zM361.2 741.8h.9v.9h-.9zM362.1 736.5h.9v.9h-.9zM381.7 727.3h.9v.9h-.9zM371.4 747.7h.9v.9h-.9zM372.3 731.7h.9v.9h-.9zM375.2 749.4h.9v.9h-.9zM370.4 732.6h.9v.9h-.9zM385.2 727.1h.9v.9h-.9zM358.5 740.7h.9v.9h-.9zM383.9 731.9h.9v.9h-.9zM378.8 742.4h.9v.9h-.9zM360.8 737.7h.9v.9h-.9zM368.1 745.8h.9v.9h-.9zM369.6 733.9h.9v.9h-.9zM373.3 731.6h.9v.9h-.9zM382.2 736.3h.9v.9h-.9zM374.5 748.5h.9v.9h-.9zM362.3 737.1h.9v.9h-.9zM385.0 729.1h.9v.9h-.9z" fill="#2a1a90"/>
<path d="M382.2 736.5h.9v.9h-.9zM369.6 748.7h.9v.9h-.9zM378.6 742.4h.9v.9h-.9zM386.2 725.0h.9v.9h-.9zM387.0 725.4h.9v.9h-.9zM383.8 726.1h.9v.9h-.9zM365.7 745.4h.9v.9h-.9zM376.3 748.4h.9v.9h-.9zM374.8 749.7h.9v.9h-.9zM362.3 736.4h.9v.9h-.9zM358.0 740.8h.9v.9h-.9zM364.8 744.3h.9v.9h-.9zM362.1 736.7h.9v.9h-.9zM371.5 732.4h.9v.9h-.9zM385.9 728.4h.9v.9h-.9zM370.9 731.7h.9v.9h-.9zM373.2 749.1h.9v.9h-.9zM361.3 743.1h.9v.9h-.9zM359.9 737.1h.9v.9h-.9zM377.6 744.8h.9v.9h-.9zM384.7 724.6h.9v.9h-.9zM372.2 749.9h.9v.9h-.9zM366.3 734.4h.9v.9h-.9zM382.2 727.8h.9v.9h-.9zM376.8 728.7h.9v.9h-.9zM356.5 740.7h.9v.9h-.9zM371.3 731.7h.9v.9h-.9zM377.5 730.1h.9v.9h-.9zM384.7 727.2h.9v.9h-.9zM373.5 731.9h.9v.9h-.9zM383.9 732.4h.9v.9h-.9zM373.3 730.7h.9v.9h-.9zM369.5 746.0h.9v.9h-.9zM380.5 728.3h.9v.9h-.9zM387.2 725.5h.9v.9h-.9zM363.1 735.4h.9v.9h-.9zM365.7 745.5h.9v.9h-.9zM381.9 737.4h.9v.9h-.9zM384.0 733.2h.9v.9h-.9zM367.6 747.6h.9v.9h-.9zM360.5 736.8h.9v.9h-.9zM368.5 732.9h.9v.9h-.9zM383.3 734.2h.9v.9h-.9zM359.7 742.5h.9v.9h-.9zM360.1 742.8h.9v.9h-.9zM379.5 742.7h.9v.9h-.9zM371.2 731.5h.9v.9h-.9zM384.0 730.3h.9v.9h-.9zM385.3 727.0h.9v.9h-.9zM364.3 743.3h.9v.9h-.9zM364.6 745.6h.9v.9h-.9zM363.6 745.2h.9v.9h-.9zM370.0 747.0h.9v.9h-.9zM368.3 746.4h.9v.9h-.9zM369.1 748.3h.9v.9h-.9zM356.3 740.4h.9v.9h-.9zM379.6 740.2h.9v.9h-.9zM359.7 741.9h.9v.9h-.9zM364.7 744.8h.9v.9h-.9zM367.4 747.4h.9v.9h-.9zM384.7 725.0h.9v.9h-.9zM368.2 733.8h.9v.9h-.9zM363.7 736.6h.9v.9h-.9zM386.5 727.0h.9v.9h-.9zM384.9 731.2h.9v.9h-.9zM358.1 741.7h.9v.9h-.9zM377.7 728.3h.9v.9h-.9zM385.2 725.0h.9v.9h-.9zM362.3 735.7h.9v.9h-.9zM364.8 744.6h.9v.9h-.9zM359.7 737.5h.9v.9h-.9zM368.3 746.4h.9v.9h-.9zM378.4 743.3h.9v.9h-.9zM360.9 742.8h.9v.9h-.9zM368.7 733.2h.9v.9h-.9zM386.4 727.3h.9v.9h-.9zM380.0 741.9h.9v.9h-.9zM370.9 731.7h.9v.9h-.9zM359.6 737.9h.9v.9h-.9zM364.1 735.8h.9v.9h-.9zM367.1 745.4h.9v.9h-.9zM378.1 728.2h.9v.9h-.9zM365.1 734.7h.9v.9h-.9zM381.7 726.5h.9v.9h-.9zM373.7 730.8h.9v.9h-.9zM357.7 741.0h.9v.9h-.9zM353.9 737.1h.9v.9h-.9zM357.5 742.0h.9v.9h-.9zM356.9 739.8h.9v.9h-.9zM357.3 738.5h.9v.9h-.9zM355.8 742.5h.9v.9h-.9zM357.6 741.0h.9v.9h-.9zM358.4 736.4h.9v.9h-.9zM356.1 737.7h.9v.9h-.9zM356.2 741.6h.9v.9h-.9zM358.7 740.1h.9v.9h-.9zM350.8 740.3h.9v.9h-.9zM357.4 736.4h.9v.9h-.9zM354.1 739.2h.9v.9h-.9zM356.9 740.7h.9v.9h-.9zM357.7 738.0h.9v.9h-.9zM359.7 736.9h.9v.9h-.9zM357.2 740.2h.9v.9h-.9zM357.4 736.3h.9v.9h-.9z" fill="#4a36b4"/>
<path d="M375.6 729.9h.9v.9h-.9zM376.9 729.5h.9v.9h-.9zM371.6 730.7h.9v.9h-.9zM382.1 725.8h.9v.9h-.9zM363.5 734.1h.9v.9h-.9zM355.1 742.4h.9v.9h-.9zM386.2 723.8h.9v.9h-.9zM369.6 732.0h.9v.9h-.9zM380.9 725.8h.9v.9h-.9zM358.4 743.5h.9v.9h-.9zM366.0 747.4h.9v.9h-.9zM367.8 748.8h.9v.9h-.9zM384.1 732.6h.9v.9h-.9zM364.1 746.0h.9v.9h-.9zM376.1 729.0h.9v.9h-.9zM375.9 728.4h.9v.9h-.9zM361.2 736.6h.9v.9h-.9zM383.6 734.3h.9v.9h-.9zM365.3 747.6h.9v.9h-.9zM355.5 739.1h.9v.9h-.9zM374.4 750.7h.9v.9h-.9zM382.8 725.5h.9v.9h-.9zM357.9 737.5h.9v.9h-.9zM374.4 728.9h.9v.9h-.9zM380.3 727.1h.9v.9h-.9zM355.3 741.8h.9v.9h-.9zM358.7 738.5h.9v.9h-.9zM370.2 731.3h.9v.9h-.9zM359.8 735.7h.9v.9h-.9zM364.9 747.3h.9v.9h-.9zM386.8 726.6h.9v.9h-.9zM377.7 747.3h.9v.9h-.9zM370.4 731.6h.9v.9h-.9zM383.7 725.7h.9v.9h-.9zM382.2 725.8h.9v.9h-.9zM365.0 746.6h.9v.9h-.9zM382.8 725.8h.9v.9h-.9zM360.3 744.5h.9v.9h-.9zM373.1 730.3h.9v.9h-.9zM357.0 737.2h.9v.9h-.9zM363.5 734.5h.9v.9h-.9zM373.7 729.3h.9v.9h-.9zM358.0 737.7h.9v.9h-.9zM370.2 731.3h.9v.9h-.9zM356.1 740.6h.9v.9h-.9zM381.5 737.7h.9v.9h-.9zM385.9 724.6h.9v.9h-.9zM380.7 739.4h.9v.9h-.9zM360.7 735.7h.9v.9h-.9zM379.9 727.1h.9v.9h-.9zM362.7 743.9h.9v.9h-.9zM368.2 747.4h.9v.9h-.9zM359.6 743.2h.9v.9h-.9zM377.8 728.6h.9v.9h-.9zM365.5 747.1h.9v.9h-.9zM378.8 728.3h.9v.9h-.9zM369.9 749.1h.9v.9h-.9zM360.0 744.4h.9v.9h-.9zM358.2 738.6h.9v.9h-.9zM357.1 737.2h.9v.9h-.9zM352.7 740.3h.9v.9h-.9zM358.2 738.6h.9v.9h-.9zM353.3 743.5h.9v.9h-.9zM355.8 744.1h.9v.9h-.9zM359.6 736.3h.9v.9h-.9zM358.1 740.4h.9v.9h-.9zM356.5 737.2h.9v.9h-.9zM359.8 738.8h.9v.9h-.9zM355.6 740.5h.9v.9h-.9zM350.1 740.5h.9v.9h-.9zM357.9 736.7h.9v.9h-.9zM351.2 743.7h.9v.9h-.9zM355.4 739.9h.9v.9h-.9zM353.6 742.0h.9v.9h-.9zM355.0 742.0h.9v.9h-.9zM355.2 738.2h.9v.9h-.9zM359.1 741.4h.9v.9h-.9zM357.6 736.8h.9v.9h-.9zM359.0 738.2h.9v.9h-.9zM357.9 739.0h.9v.9h-.9zM351.3 741.8h.9v.9h-.9zM355.0 737.2h.9v.9h-.9zM356.7 739.7h.9v.9h-.9zM358.6 738.5h.9v.9h-.9zM351.9 742.4h.9v.9h-.9zM357.5 737.7h.9v.9h-.9zM357.7 739.8h.9v.9h-.9zM359.6 736.4h.9v.9h-.9zM349.8 743.7h.9v.9h-.9zM353.6 742.9h.9v.9h-.9zM356.3 737.1h.9v.9h-.9zM357.8 739.8h.9v.9h-.9zM352.7 744.0h.9v.9h-.9zM357.1 741.5h.9v.9h-.9zM351.3 740.6h.9v.9h-.9zM357.0 738.0h.9v.9h-.9zM359.4 743.0h.9v.9h-.9zM357.2 741.2h.9v.9h-.9zM357.6 741.3h.9v.9h-.9zM359.4 742.3h.9v.9h-.9zM353.9 744.9h.9v.9h-.9zM354.5 737.5h.9v.9h-.9zM358.2 741.1h.9v.9h-.9zM355.8 736.5h.9v.9h-.9zM357.5 737.3h.9v.9h-.9z" fill="#7a6cd0"/>
<path d="M384.9 732.9h.9v.9h-.9zM358.3 743.1h.9v.9h-.9zM386.9 726.5h.9v.9h-.9zM383.8 735.6h.9v.9h-.9zM386.9 722.9h.9v.9h-.9zM357.1 738.3h.9v.9h-.9zM388.6 723.8h.9v.9h-.9zM362.4 746.0h.9v.9h-.9zM362.0 734.9h.9v.9h-.9zM369.2 749.0h.9v.9h-.9zM373.4 729.1h.9v.9h-.9zM357.5 737.2h.9v.9h-.9zM378.1 746.7h.9v.9h-.9zM356.5 738.6h.9v.9h-.9zM365.9 733.3h.9v.9h-.9zM387.2 723.3h.9v.9h-.9zM357.4 737.2h.9v.9h-.9zM386.5 728.0h.9v.9h-.9zM363.6 746.6h.9v.9h-.9zM366.2 732.5h.9v.9h-.9zM359.0 736.9h.9v.9h-.9zM360.0 744.3h.9v.9h-.9zM386.4 727.8h.9v.9h-.9zM366.3 747.6h.9v.9h-.9zM373.9 729.1h.9v.9h-.9zM387.2 726.9h.9v.9h-.9zM369.2 749.1h.9v.9h-.9zM386.1 723.1h.9v.9h-.9zM354.3 741.5h.9v.9h-.9zM385.1 723.4h.9v.9h-.9zM356.4 743.1h.9v.9h-.9zM387.4 722.0h.9v.9h-.9zM370.4 750.2h.9v.9h-.9zM370.3 750.6h.9v.9h-.9zM383.6 735.3h.9v.9h-.9zM362.5 734.2h.9v.9h-.9zM347.4 739.0h.9v.9h-.9zM347.9 739.3h.9v.9h-.9zM347.6 740.8h.9v.9h-.9zM349.2 740.5h.9v.9h-.9zM353.2 740.2h.9v.9h-.9zM353.5 743.8h.9v.9h-.9zM350.2 740.3h.9v.9h-.9zM355.1 742.9h.9v.9h-.9zM348.0 739.4h.9v.9h-.9zM351.1 738.3h.9v.9h-.9zM351.3 737.6h.9v.9h-.9zM354.3 739.7h.9v.9h-.9zM354.2 743.8h.9v.9h-.9zM349.5 739.1h.9v.9h-.9zM348.5 741.6h.9v.9h-.9zM347.3 740.7h.9v.9h-.9zM349.7 741.4h.9v.9h-.9zM351.1 743.1h.9v.9h-.9zM347.6 743.3h.9v.9h-.9zM352.3 739.8h.9v.9h-.9zM356.7 742.5h.9v.9h-.9zM353.4 741.5h.9v.9h-.9zM347.9 740.3h.9v.9h-.9zM347.5 741.5h.9v.9h-.9zM348.2 739.5h.9v.9h-.9zM354.9 740.0h.9v.9h-.9zM348.9 742.7h.9v.9h-.9zM347.0 740.4h.9v.9h-.9zM347.4 742.5h.9v.9h-.9zM351.7 739.9h.9v.9h-.9zM348.1 742.3h.9v.9h-.9zM349.4 741.8h.9v.9h-.9zM354.7 736.5h.9v.9h-.9zM354.1 743.4h.9v.9h-.9zM348.9 741.5h.9v.9h-.9zM349.4 742.5h.9v.9h-.9zM353.9 740.8h.9v.9h-.9zM351.8 743.5h.9v.9h-.9zM352.1 737.2h.9v.9h-.9zM352.4 742.4h.9v.9h-.9zM351.5 742.3h.9v.9h-.9zM348.4 739.9h.9v.9h-.9zM356.3 741.2h.9v.9h-.9zM349.3 742.1h.9v.9h-.9z" fill="#aea6e2"/>
<g transform="translate(373.3,739.8) rotate(-20)" filter="url(#bl2)"><ellipse rx="6.5" ry="5.3" fill="#2440c4"/><ellipse rx="5.2" ry="4.4" fill="#32b4d8"/><ellipse rx="2.9" ry="2.5" fill="#4cc85a" cx="0.4"/><ellipse rx="1.5" ry="1.6" fill="#b4d820" cx="0.5"/></g>
<rect x="370.4" y="711.8" width="25.700000000000003" height="53.5" fill="none" stroke="#8fb08f" stroke-width="0.6"/>
<text x="371.7" y="719.16" font-size="4.6" fill="#5a8a5a" >P6(82.48%)</text>
<text x="328.0" y="713.2" font-size="6.2" text-anchor="end" fill="#444">10<tspan font-size="4" dy="-2.6">6</tspan></text>
<text x="328.0" y="726.5" font-size="6.2" text-anchor="end" fill="#444">10<tspan font-size="4" dy="-2.6">5</tspan></text>
<text x="328.0" y="739.8" font-size="6.2" text-anchor="end" fill="#444">10<tspan font-size="4" dy="-2.6">4</tspan></text>
<text x="328.0" y="753.1" font-size="6.2" text-anchor="end" fill="#444">10<tspan font-size="4" dy="-2.6">3</tspan></text>
<text x="328.0" y="766.4" font-size="6.2" text-anchor="end" fill="#444">10<tspan font-size="4" dy="-2.6">2</tspan></text>
<text font-size="6.2" fill="#444" text-anchor="middle" transform="translate(332.6,774.7) rotate(-45)">0</text>
<text font-size="6.2" fill="#444" text-anchor="middle" transform="translate(348.6,774.7) rotate(-45)">10<tspan font-size="4" dy="-2.6">1</tspan></text>
<text font-size="6.2" fill="#444" text-anchor="middle" transform="translate(358.2,774.7) rotate(-45)">10<tspan font-size="4" dy="-2.6">2</tspan></text>
<text font-size="6.2" fill="#444" text-anchor="middle" transform="translate(367.9,774.7) rotate(-45)">10<tspan font-size="4" dy="-2.6">3</tspan></text>
<text font-size="6.2" fill="#444" text-anchor="middle" transform="translate(377.9,774.7) rotate(-45)">10<tspan font-size="4" dy="-2.6">4</tspan></text>
<text font-size="6.2" fill="#444" text-anchor="middle" transform="translate(387.9,774.7) rotate(-45)">10<tspan font-size="4" dy="-2.6">5</tspan></text>
<text font-size="6.2" fill="#444" text-anchor="middle" transform="translate(397.9,774.7) rotate(-45)">10<tspan font-size="4" dy="-2.6">6</tspan></text>
<text x="364.2" y="790.97" font-size="8.8" text-anchor="middle" stroke="#3a3a3a" stroke-width="0.12" fill="#3a3a3a" textLength="20.5" lengthAdjust="spacingAndGlyphs" >FITC-A</text>
<text x="0" y="3.17" font-size="8.8" text-anchor="middle" stroke="#3a3a3a" stroke-width="0.12" fill="#3a3a3a" textLength="17.8" lengthAdjust="spacingAndGlyphs" transform="translate(309.7,738.3) rotate(-90)" >SSC-A</text>
<text x="473.2" y="707.46" font-size="7.1" text-anchor="middle" stroke="#231f20" stroke-width="0.05" fill="#231f20" >16-8 : P2</text>
<rect x="440.4" y="710.9" width="66" height="54.6" fill="#fff" stroke="#aaa" stroke-width="0.8"/>
<defs><radialGradient id="rg21" gradientUnits="userSpaceOnUse" cx="483.6" cy="739.2" r="24" gradientTransform="translate(483.6,739.2) scale(1,0.62) translate(-483.6,-739.2)"><stop offset="0" stop-color="#22148a"/><stop offset="0.45" stop-color="#2c1a98"/><stop offset="0.7" stop-color="#4432b2"/><stop offset="0.9" stop-color="#6e60c8"/><stop offset="1" stop-color="#9a90dc"/></radialGradient></defs>
<path d="M467.8,739.2 L473.4,735.5 L480.8,732.3 L487.3,729.5 L493.7,726.0 L494.3,727.4 L490.6,736.4 L486.9,743.8 L484.2,748.8 L481.3,748.4 L477.1,746.1 L472.4,743.3 L467.8,741.5 Z" fill="url(#rg21)" filter="url(#bl2)"/>
<path d="M491.2 728.4h.9v.9h-.9zM475.9 735.5h.9v.9h-.9zM492.9 727.3h.9v.9h-.9zM479.8 746.5h.9v.9h-.9zM487.5 730.2h.9v.9h-.9zM488.5 729.6h.9v.9h-.9zM472.0 742.7h.9v.9h-.9zM486.6 743.1h.9v.9h-.9zM469.2 739.3h.9v.9h-.9zM492.5 731.1h.9v.9h-.9zM486.4 731.1h.9v.9h-.9zM475.7 745.0h.9v.9h-.9zM477.2 745.6h.9v.9h-.9zM493.0 729.7h.9v.9h-.9zM489.3 737.4h.9v.9h-.9zM477.4 745.2h.9v.9h-.9zM477.0 745.2h.9v.9h-.9zM489.9 736.6h.9v.9h-.9zM489.1 729.1h.9v.9h-.9zM483.3 748.1h.9v.9h-.9zM469.5 739.2h.9v.9h-.9zM487.3 730.2h.9v.9h-.9zM486.6 730.1h.9v.9h-.9zM474.0 743.2h.9v.9h-.9zM485.0 746.3h.9v.9h-.9zM491.0 727.9h.9v.9h-.9zM470.0 739.8h.9v.9h-.9zM475.8 735.0h.9v.9h-.9zM468.9 740.0h.9v.9h-.9zM476.6 735.1h.9v.9h-.9zM487.8 740.5h.9v.9h-.9zM477.4 746.2h.9v.9h-.9zM468.1 741.4h.9v.9h-.9zM489.4 729.4h.9v.9h-.9zM485.8 744.2h.9v.9h-.9zM482.0 747.7h.9v.9h-.9zM481.3 732.1h.9v.9h-.9zM481.1 747.2h.9v.9h-.9zM469.9 738.0h.9v.9h-.9zM488.3 740.7h.9v.9h-.9zM482.8 747.4h.9v.9h-.9zM475.5 744.4h.9v.9h-.9zM491.2 728.1h.9v.9h-.9zM490.6 734.9h.9v.9h-.9zM493.5 729.1h.9v.9h-.9zM477.9 745.4h.9v.9h-.9zM490.2 736.2h.9v.9h-.9zM487.3 742.5h.9v.9h-.9zM469.7 738.6h.9v.9h-.9zM482.8 732.1h.9v.9h-.9zM484.7 730.8h.9v.9h-.9zM490.9 734.2h.9v.9h-.9zM475.7 744.7h.9v.9h-.9zM480.6 747.4h.9v.9h-.9zM474.4 735.6h.9v.9h-.9zM492.1 731.0h.9v.9h-.9zM492.9 728.3h.9v.9h-.9zM469.9 741.9h.9v.9h-.9zM469.1 739.2h.9v.9h-.9zM488.0 741.6h.9v.9h-.9zM490.3 728.8h.9v.9h-.9zM490.4 728.5h.9v.9h-.9zM469.5 741.0h.9v.9h-.9zM470.5 741.7h.9v.9h-.9zM493.3 728.2h.9v.9h-.9zM487.1 730.7h.9v.9h-.9zM482.0 747.8h.9v.9h-.9zM487.3 741.9h.9v.9h-.9zM475.5 744.7h.9v.9h-.9zM477.5 745.5h.9v.9h-.9zM478.8 746.8h.9v.9h-.9z" fill="#2a1a90"/>
<path d="M489.7 728.6h.9v.9h-.9zM488.6 729.0h.9v.9h-.9zM478.4 734.3h.9v.9h-.9zM473.0 744.6h.9v.9h-.9zM491.8 727.0h.9v.9h-.9zM482.7 748.6h.9v.9h-.9zM489.0 728.0h.9v.9h-.9zM493.0 728.5h.9v.9h-.9zM485.4 729.9h.9v.9h-.9zM476.1 746.2h.9v.9h-.9zM488.9 740.8h.9v.9h-.9zM489.7 728.9h.9v.9h-.9zM467.6 741.5h.9v.9h-.9zM483.0 748.8h.9v.9h-.9zM477.5 733.8h.9v.9h-.9zM491.9 726.5h.9v.9h-.9zM474.5 743.1h.9v.9h-.9zM473.9 735.0h.9v.9h-.9zM494.6 726.7h.9v.9h-.9zM481.3 748.5h.9v.9h-.9zM470.6 738.0h.9v.9h-.9zM486.1 729.8h.9v.9h-.9zM467.3 741.3h.9v.9h-.9zM479.8 747.2h.9v.9h-.9zM481.9 749.2h.9v.9h-.9zM480.1 748.4h.9v.9h-.9zM466.9 739.3h.9v.9h-.9zM477.9 746.8h.9v.9h-.9zM474.4 734.8h.9v.9h-.9zM492.3 732.8h.9v.9h-.9zM487.6 730.0h.9v.9h-.9zM490.4 737.2h.9v.9h-.9zM485.5 730.5h.9v.9h-.9zM494.6 726.2h.9v.9h-.9zM494.5 725.9h.9v.9h-.9zM467.7 739.8h.9v.9h-.9zM492.0 731.3h.9v.9h-.9zM480.2 733.3h.9v.9h-.9zM493.4 728.0h.9v.9h-.9zM469.6 742.4h.9v.9h-.9zM473.3 743.9h.9v.9h-.9zM494.9 725.6h.9v.9h-.9zM489.2 740.1h.9v.9h-.9zM492.3 732.8h.9v.9h-.9zM466.8 740.1h.9v.9h-.9zM488.4 741.5h.9v.9h-.9zM472.1 743.4h.9v.9h-.9zM479.1 746.9h.9v.9h-.9zM491.2 735.3h.9v.9h-.9zM492.7 729.6h.9v.9h-.9zM481.0 732.9h.9v.9h-.9zM476.8 746.3h.9v.9h-.9zM475.1 745.0h.9v.9h-.9zM467.7 741.0h.9v.9h-.9zM491.3 727.2h.9v.9h-.9zM476.2 744.9h.9v.9h-.9zM467.1 738.7h.9v.9h-.9zM469.5 738.4h.9v.9h-.9zM494.9 727.0h.9v.9h-.9zM470.1 742.9h.9v.9h-.9zM486.8 729.1h.9v.9h-.9zM494.5 727.7h.9v.9h-.9zM469.3 741.8h.9v.9h-.9zM473.2 736.9h.9v.9h-.9zM492.9 726.7h.9v.9h-.9zM494.9 726.0h.9v.9h-.9zM483.9 749.3h.9v.9h-.9zM475.2 734.6h.9v.9h-.9zM484.9 729.9h.9v.9h-.9zM466.9 741.1h.9v.9h-.9zM469.0 741.0h.9v.9h-.9zM480.8 747.3h.9v.9h-.9zM491.2 727.0h.9v.9h-.9zM471.2 743.0h.9v.9h-.9zM476.9 734.4h.9v.9h-.9zM476.0 746.0h.9v.9h-.9zM466.3 739.3h.9v.9h-.9zM479.8 732.5h.9v.9h-.9zM469.7 736.9h.9v.9h-.9zM479.2 733.6h.9v.9h-.9zM480.6 749.0h.9v.9h-.9zM467.5 739.6h.9v.9h-.9zM480.5 748.2h.9v.9h-.9zM479.5 732.7h.9v.9h-.9zM493.5 726.7h.9v.9h-.9zM468.0 740.5h.9v.9h-.9zM472.7 736.1h.9v.9h-.9zM491.9 726.7h.9v.9h-.9zM484.8 746.5h.9v.9h-.9zM490.4 737.3h.9v.9h-.9zM477.5 733.6h.9v.9h-.9zM478.1 734.1h.9v.9h-.9zM486.9 744.6h.9v.9h-.9zM489.9 736.3h.9v.9h-.9zM466.6 740.8h.9v.9h-.9zM466.3 736.3h.9v.9h-.9zM464.2 741.6h.9v.9h-.9zM465.3 738.0h.9v.9h-.9zM467.4 742.0h.9v.9h-.9zM459.2 740.4h.9v.9h-.9zM469.3 741.6h.9v.9h-.9zM465.6 742.9h.9v.9h-.9zM468.2 742.0h.9v.9h-.9zM467.3 736.8h.9v.9h-.9zM462.1 741.8h.9v.9h-.9zM469.4 738.6h.9v.9h-.9zM466.3 741.4h.9v.9h-.9zM465.3 742.5h.9v.9h-.9zM469.0 736.5h.9v.9h-.9zM466.8 736.8h.9v.9h-.9zM462.7 741.7h.9v.9h-.9zM461.6 743.3h.9v.9h-.9zM458.6 742.8h.9v.9h-.9zM467.6 741.8h.9v.9h-.9zM467.6 738.7h.9v.9h-.9zM468.7 739.4h.9v.9h-.9zM466.1 740.6h.9v.9h-.9zM468.0 741.1h.9v.9h-.9z" fill="#4a36b4"/>
<path d="M469.3 742.3h.9v.9h-.9zM469.2 743.4h.9v.9h-.9zM469.1 743.1h.9v.9h-.9zM467.6 741.7h.9v.9h-.9zM476.9 747.5h.9v.9h-.9zM485.2 746.9h.9v.9h-.9zM470.5 743.9h.9v.9h-.9zM465.1 740.0h.9v.9h-.9zM486.3 728.8h.9v.9h-.9zM474.9 746.8h.9v.9h-.9zM488.9 739.8h.9v.9h-.9zM474.6 745.3h.9v.9h-.9zM492.6 732.2h.9v.9h-.9zM473.4 744.0h.9v.9h-.9zM474.7 733.5h.9v.9h-.9zM489.8 728.0h.9v.9h-.9zM480.8 748.6h.9v.9h-.9zM491.9 734.0h.9v.9h-.9zM475.0 734.1h.9v.9h-.9zM478.2 748.1h.9v.9h-.9zM464.7 740.6h.9v.9h-.9zM476.2 734.2h.9v.9h-.9zM466.7 740.3h.9v.9h-.9zM491.3 726.6h.9v.9h-.9zM472.0 736.1h.9v.9h-.9zM489.1 727.4h.9v.9h-.9zM473.7 734.4h.9v.9h-.9zM490.8 738.4h.9v.9h-.9zM488.4 740.9h.9v.9h-.9zM491.8 727.0h.9v.9h-.9zM488.2 728.9h.9v.9h-.9zM485.4 729.0h.9v.9h-.9zM471.5 743.8h.9v.9h-.9zM466.3 738.9h.9v.9h-.9zM470.5 743.5h.9v.9h-.9zM482.9 749.7h.9v.9h-.9zM491.6 735.4h.9v.9h-.9zM493.4 726.1h.9v.9h-.9zM475.9 746.5h.9v.9h-.9zM494.5 725.7h.9v.9h-.9zM466.3 742.2h.9v.9h-.9zM478.4 748.9h.9v.9h-.9zM490.4 726.2h.9v.9h-.9zM475.5 745.5h.9v.9h-.9zM468.9 742.9h.9v.9h-.9zM478.4 748.8h.9v.9h-.9zM466.0 742.6h.9v.9h-.9zM479.5 748.9h.9v.9h-.9zM491.5 726.1h.9v.9h-.9zM485.6 747.9h.9v.9h-.9zM493.6 730.3h.9v.9h-.9zM468.5 742.2h.9v.9h-.9zM468.1 743.0h.9v.9h-.9zM465.5 740.7h.9v.9h-.9zM481.1 731.1h.9v.9h-.9zM492.3 726.7h.9v.9h-.9zM472.8 735.0h.9v.9h-.9zM470.8 744.5h.9v.9h-.9zM476.4 747.1h.9v.9h-.9zM488.2 741.8h.9v.9h-.9zM491.9 725.3h.9v.9h-.9zM474.7 733.2h.9v.9h-.9zM490.3 738.4h.9v.9h-.9zM479.9 732.6h.9v.9h-.9zM468.9 736.8h.9v.9h-.9zM467.6 736.9h.9v.9h-.9zM467.7 739.7h.9v.9h-.9zM466.8 739.0h.9v.9h-.9zM465.0 744.6h.9v.9h-.9zM469.6 740.6h.9v.9h-.9zM466.4 740.5h.9v.9h-.9zM462.1 739.2h.9v.9h-.9zM465.5 740.5h.9v.9h-.9zM469.1 740.6h.9v.9h-.9zM468.6 738.3h.9v.9h-.9zM466.7 742.5h.9v.9h-.9zM469.0 741.1h.9v.9h-.9zM464.1 737.2h.9v.9h-.9zM468.1 738.2h.9v.9h-.9zM465.7 740.6h.9v.9h-.9zM463.3 738.4h.9v.9h-.9zM461.4 742.2h.9v.9h-.9zM463.4 738.3h.9v.9h-.9zM467.9 736.4h.9v.9h-.9zM466.7 743.5h.9v.9h-.9zM469.5 737.0h.9v.9h-.9zM469.1 740.2h.9v.9h-.9zM467.5 739.1h.9v.9h-.9zM465.9 741.2h.9v.9h-.9zM468.4 736.6h.9v.9h-.9zM467.4 738.0h.9v.9h-.9zM465.9 737.9h.9v.9h-.9zM467.3 737.0h.9v.9h-.9zM469.0 742.9h.9v.9h-.9zM465.7 743.9h.9v.9h-.9zM465.5 736.2h.9v.9h-.9zM467.9 741.2h.9v.9h-.9zM466.4 742.2h.9v.9h-.9zM464.3 744.0h.9v.9h-.9zM468.6 740.0h.9v.9h-.9zM467.3 739.1h.9v.9h-.9zM468.3 742.4h.9v.9h-.9zM467.5 740.8h.9v.9h-.9zM469.0 740.3h.9v.9h-.9zM464.4 743.4h.9v.9h-.9zM463.7 743.3h.9v.9h-.9zM466.8 739.3h.9v.9h-.9zM464.7 741.8h.9v.9h-.9zM462.4 737.5h.9v.9h-.9z" fill="#7a6cd0"/>
<path d="M489.1 727.6h.9v.9h-.9zM495.7 725.1h.9v.9h-.9zM471.0 735.5h.9v.9h-.9zM465.4 740.5h.9v.9h-.9zM480.9 750.3h.9v.9h-.9zM480.7 731.1h.9v.9h-.9zM479.2 748.5h.9v.9h-.9zM495.6 725.2h.9v.9h-.9zM495.1 727.9h.9v.9h-.9zM479.8 749.6h.9v.9h-.9zM478.9 749.1h.9v.9h-.9zM490.0 726.4h.9v.9h-.9zM490.2 739.1h.9v.9h-.9zM471.7 744.2h.9v.9h-.9zM486.4 728.3h.9v.9h-.9zM481.4 730.7h.9v.9h-.9zM482.5 730.1h.9v.9h-.9zM482.1 730.4h.9v.9h-.9zM482.0 730.9h.9v.9h-.9zM494.7 728.1h.9v.9h-.9zM466.4 738.2h.9v.9h-.9zM478.8 748.7h.9v.9h-.9zM475.3 733.3h.9v.9h-.9zM465.8 741.1h.9v.9h-.9zM470.5 743.9h.9v.9h-.9zM494.6 728.5h.9v.9h-.9zM471.1 735.7h.9v.9h-.9zM474.8 733.4h.9v.9h-.9zM465.1 740.9h.9v.9h-.9zM468.1 736.8h.9v.9h-.9zM477.8 748.1h.9v.9h-.9zM463.2 744.0h.9v.9h-.9zM462.5 739.1h.9v.9h-.9zM463.8 739.8h.9v.9h-.9zM462.9 738.6h.9v.9h-.9zM458.5 742.5h.9v.9h-.9zM458.9 739.9h.9v.9h-.9zM459.4 743.3h.9v.9h-.9zM457.6 741.4h.9v.9h-.9zM468.9 741.7h.9v.9h-.9zM462.2 744.0h.9v.9h-.9zM466.2 738.4h.9v.9h-.9zM458.2 739.5h.9v.9h-.9zM457.7 740.5h.9v.9h-.9zM460.9 740.9h.9v.9h-.9zM460.7 742.6h.9v.9h-.9zM462.3 737.7h.9v.9h-.9zM461.0 741.5h.9v.9h-.9zM468.1 742.1h.9v.9h-.9zM459.7 739.6h.9v.9h-.9zM460.6 739.4h.9v.9h-.9zM468.0 742.4h.9v.9h-.9zM464.3 741.1h.9v.9h-.9zM460.3 739.7h.9v.9h-.9zM462.4 741.1h.9v.9h-.9zM463.8 744.0h.9v.9h-.9zM463.4 740.1h.9v.9h-.9zM461.6 737.8h.9v.9h-.9zM459.3 743.2h.9v.9h-.9zM458.0 739.7h.9v.9h-.9zM465.3 740.7h.9v.9h-.9zM463.2 738.9h.9v.9h-.9zM463.4 742.6h.9v.9h-.9zM467.2 736.6h.9v.9h-.9zM464.8 736.7h.9v.9h-.9zM460.9 739.7h.9v.9h-.9zM465.1 740.9h.9v.9h-.9zM463.1 738.4h.9v.9h-.9zM462.7 742.9h.9v.9h-.9zM458.6 740.4h.9v.9h-.9zM460.0 740.8h.9v.9h-.9zM458.6 739.7h.9v.9h-.9z" fill="#aea6e2"/>
<g transform="translate(483.0,739.6) rotate(-20)" filter="url(#bl2)"><ellipse rx="5.8" ry="5.3" fill="#2440c4"/><ellipse rx="4.6" ry="4.4" fill="#32b4d8"/><ellipse rx="2.5" ry="2.5" fill="#4cc85a" cx="0.4"/><ellipse rx="1.3" ry="1.6" fill="#b4d820" cx="0.5"/></g>
<rect x="479.79999999999995" y="711.8" width="25.700000000000003" height="53.5" fill="none" stroke="#8fb08f" stroke-width="0.6"/>
<text x="481.1" y="719.16" font-size="4.6" fill="#5a8a5a" >P6(91.42%)</text>
<text x="437.4" y="713.2" font-size="6.2" text-anchor="end" fill="#444">10<tspan font-size="4" dy="-2.6">6</tspan></text>
<text x="437.4" y="726.5" font-size="6.2" text-anchor="end" fill="#444">10<tspan font-size="4" dy="-2.6">5</tspan></text>
<text x="437.4" y="739.8" font-size="6.2" text-anchor="end" fill="#444">10<tspan font-size="4" dy="-2.6">4</tspan></text>
<text x="437.4" y="753.1" font-size="6.2" text-anchor="end" fill="#444">10<tspan font-size="4" dy="-2.6">3</tspan></text>
<text x="437.4" y="766.4" font-size="6.2" text-anchor="end" fill="#444">10<tspan font-size="4" dy="-2.6">2</tspan></text>
<text font-size="6.2" fill="#444" text-anchor="middle" transform="translate(442.0,774.7) rotate(-45)">0</text>
<text font-size="6.2" fill="#444" text-anchor="middle" transform="translate(458.0,774.7) rotate(-45)">10<tspan font-size="4" dy="-2.6">1</tspan></text>
<text font-size="6.2" fill="#444" text-anchor="middle" transform="translate(467.6,774.7) rotate(-45)">10<tspan font-size="4" dy="-2.6">2</tspan></text>
<text font-size="6.2" fill="#444" text-anchor="middle" transform="translate(477.3,774.7) rotate(-45)">10<tspan font-size="4" dy="-2.6">3</tspan></text>
<text font-size="6.2" fill="#444" text-anchor="middle" transform="translate(487.3,774.7) rotate(-45)">10<tspan font-size="4" dy="-2.6">4</tspan></text>
<text font-size="6.2" fill="#444" text-anchor="middle" transform="translate(497.3,774.7) rotate(-45)">10<tspan font-size="4" dy="-2.6">5</tspan></text>
<text font-size="6.2" fill="#444" text-anchor="middle" transform="translate(507.3,774.7) rotate(-45)">10<tspan font-size="4" dy="-2.6">6</tspan></text>
<text x="473.6" y="790.97" font-size="8.8" text-anchor="middle" stroke="#3a3a3a" stroke-width="0.12" fill="#3a3a3a" textLength="20.5" lengthAdjust="spacingAndGlyphs" >FITC-A</text>
<text x="0" y="3.17" font-size="8.8" text-anchor="middle" stroke="#3a3a3a" stroke-width="0.12" fill="#3a3a3a" textLength="17.8" lengthAdjust="spacingAndGlyphs" transform="translate(419.1,738.3) rotate(-90)" >SSC-A</text>
<text x="0" y="3.6" font-size="10" text-anchor="middle" fill="#231f20" textLength="32.8" lengthAdjust="spacingAndGlyphs" transform="translate(296.2,539.9) rotate(-90)" >Resting</text>
<text x="0" y="3.46" font-size="9.6" text-anchor="middle" fill="#231f20" textLength="45.6" lengthAdjust="spacingAndGlyphs" transform="translate(283.65,638.9) rotate(-90)" >100ng/mL</text>
<text x="0" y="3.46" font-size="9.6" text-anchor="middle" fill="#231f20" textLength="43.9" lengthAdjust="spacingAndGlyphs" transform="translate(295.4,639.7) rotate(-90)" >Convulxin</text>
<text x="0" y="3.46" font-size="9.6" text-anchor="middle" fill="#231f20" textLength="32" lengthAdjust="spacingAndGlyphs" transform="translate(283.65,738) rotate(-90)" >1 U/mL</text>
<text x="0" y="3.46" font-size="9.6" text-anchor="middle" fill="#231f20" textLength="42.6" lengthAdjust="spacingAndGlyphs" transform="translate(295.4,738.3) rotate(-90)" >Thrombin</text>
<line x1="332.3" y1="797.7" x2="501" y2="797.7" stroke="#231f20" stroke-width="1.2" />
<path d="M506.6,797.7 L499.4,794.5 L499.4,800.9 Z" fill="#231f20"/>
<text x="418.8" y="810.24" font-size="10.4" text-anchor="middle" stroke="#231f20" stroke-width="0.12" fill="#231f20" textLength="46.5" lengthAdjust="spacingAndGlyphs" >P-Selectin</text>
<rect x="0.5" y="0.5" width="519" height="819" fill="none" stroke="#4d4d4d" stroke-width="1.2"/>
</svg></body></html>
